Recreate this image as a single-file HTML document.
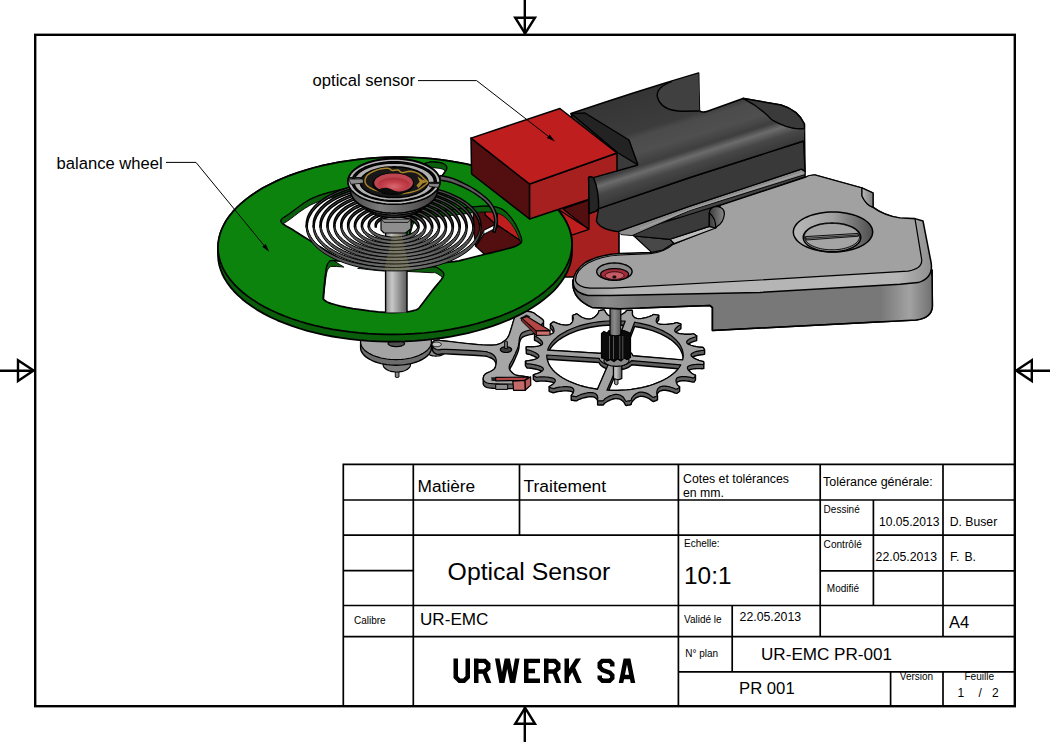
<!DOCTYPE html>
<html>
<head>
<meta charset="utf-8">
<title>Optical Sensor - UR-EMC PR-001</title>
<style>
html,body{margin:0;padding:0;background:#fff;}
body{width:1050px;height:742px;overflow:hidden;position:relative;font-family:"Liberation Sans",sans-serif;color:#000;}
svg{position:absolute;left:0;top:0;}
text{font-family:"Liberation Sans",sans-serif;fill:#000;}
.mono{font-family:"Liberation Mono",monospace;font-weight:bold;}
</style>
</head>
<body>
<svg width="1050" height="742" viewBox="0 0 1050 742">
<rect x="0" y="0" width="1050" height="742" fill="#ffffff"/>

<defs><clipPath id="urclip"><rect x="450" y="658.4" width="190" height="24.7"/></clipPath></defs>
<defs id="illdefs">
<linearGradient id="gRail" gradientUnits="userSpaceOnUse" x1="690" y1="150" x2="699" y2="178">
 <stop offset="0" stop-color="#404040"/><stop offset="0.22" stop-color="#6c6c6c"/><stop offset="0.5" stop-color="#474747"/><stop offset="1" stop-color="#343434"/></linearGradient>
<linearGradient id="gTopB" gradientUnits="userSpaceOnUse" x1="660" y1="85" x2="680" y2="150">
 <stop offset="0" stop-color="#353535"/><stop offset="0.55" stop-color="#3c3c3c"/><stop offset="0.64" stop-color="#4b4b4b"/><stop offset="0.86" stop-color="#4f4f4f"/><stop offset="1" stop-color="#424242"/></linearGradient>
<linearGradient id="gStaff" x1="0" y1="0" x2="1" y2="0">
 <stop offset="0" stop-color="#8a8a8a"/><stop offset="0.3" stop-color="#c8c8c8"/><stop offset="0.6" stop-color="#9a9a9a"/><stop offset="1" stop-color="#5a5a5a"/></linearGradient>
<linearGradient id="gArbor" x1="0" y1="0" x2="1" y2="0"><stop offset="0" stop-color="#5c5c5c"/><stop offset="0.4" stop-color="#8c8c8c"/><stop offset="1" stop-color="#585858"/></linearGradient>
<linearGradient id="gInca" x1="0" y1="0" x2="1" y2="0">
 <stop offset="0" stop-color="#444"/><stop offset="0.35" stop-color="#7c7c7c"/><stop offset="0.7" stop-color="#5e5e5e"/><stop offset="1" stop-color="#363636"/></linearGradient>
<linearGradient id="gSide" gradientUnits="userSpaceOnUse" x1="880" y1="0" x2="934" y2="0">
 <stop offset="0" stop-color="#777"/><stop offset="0.55" stop-color="#a2a2a2"/><stop offset="1" stop-color="#6c6c6c"/></linearGradient>
<linearGradient id="gSideL" gradientUnits="userSpaceOnUse" x1="572" y1="0" x2="640" y2="0">
 <stop offset="0" stop-color="#5e5e5e"/><stop offset="0.5" stop-color="#8c8c8c"/><stop offset="1" stop-color="#777"/></linearGradient>
<linearGradient id="gCham" gradientUnits="userSpaceOnUse" x1="572" y1="0" x2="934" y2="0">
 <stop offset="0" stop-color="#8a8a8a"/><stop offset="0.12" stop-color="#b4b4b4"/><stop offset="0.9" stop-color="#b6b6b6"/><stop offset="1" stop-color="#8c8c8c"/></linearGradient>
<linearGradient id="gSpring" x1="0" y1="0" x2="1" y2="0">
 <stop offset="0" stop-color="#505050"/><stop offset="0.35" stop-color="#646464"/><stop offset="0.55" stop-color="#767676"/><stop offset="1" stop-color="#4c4c4c"/></linearGradient>
<radialGradient id="gJewel" cx="0.5" cy="0.65" r="0.6">
 <stop offset="0" stop-color="#d86a72"/><stop offset="0.55" stop-color="#c4424c"/><stop offset="1" stop-color="#b02f3a"/></radialGradient>
<linearGradient id="gSink" x1="0" y1="0" x2="1" y2="0">
 <stop offset="0" stop-color="#b8b8b8"/><stop offset="0.5" stop-color="#a0a0a0"/><stop offset="1" stop-color="#4e4e4e"/></linearGradient>
<linearGradient id="gNotchL" x1="0" y1="0" x2="1" y2="0"><stop offset="0" stop-color="#b8b8b8"/><stop offset="1" stop-color="#7c7c7c"/></linearGradient>
<linearGradient id="gNotch" x1="0" y1="0" x2="1" y2="0">
 <stop offset="0" stop-color="#3c3c3c"/><stop offset="1" stop-color="#8a8a8a"/></linearGradient>
<clipPath id="clipWR"><path d="M410 240L411.6 244.9 414.6 249.2 418.3 252.9 422 256 425.7 258.4 429.7 260 433.8 261.2 438 262 442.2 262.4 446.6 262.3 450.9 261.9 455 261.4 458.9 260.8 462.6 259.9 466.2 259 470 258 474 257 478.1 256 482.1 255 486 254 489.7 253.1 493.2 252.3 496.6 251.4 500 250.6 503.6 249.7 507.2 248.8 510.6 247.9 513.5 247 515.7 246.1 517.5 245.3 518.9 244.4 520 243.6 520.8 242.9 520.8 242.8 520.8 242.7 520.1 240.7 519.2 238.4 518.1 235.8 516.7 232.9 515.2 229.9 513.5 227.1 511.6 224.4 509.4 221.7 507.2 219.2 505 217.2 502.9 215.7 500.9 214.5 498.8 213.7 496.5 213 494 212.5 491.4 212.2 488.7 212.1 486.1 212 483.6 212 481.2 212.1 478.6 212.3 475.8 212.5 472.8 212.8 469.6 213.2 466.1 213.7 462 214.2 457.1 214.8 451.6 215.4 445.8 216 440 216.7 433.7 216.9 427 216.7 420.8 217.3 416 219.7 412.8 224.8 410.8 231.9 409.9 238.3Z"/></clipPath></defs>
<!-- ====== ILLUSTRATION ====== -->
<g id="illustration">
<g id="escapewheel" stroke-linejoin="round"><path d="M534.5 340L534.7 340.3 535.2 340.5 536 340.8 536.7 341.1 537.4 341.6 538.2 342.1 538.9 342.6 539.7 343.3 540.5 344 541.1 344.7 541.4 345 541 345.3 540.1 345.7 539 346 537.7 346.3 536.4 346.5 534.9 346.7 533.2 346.8 531.6 346.8 529.8 346.8 528 346.7 526.7 346.8 526.2 347 526.2 351.2 526.3 351.6 526.3 351.7 526.3 352.9 526.3 353.3 526.4 353.5 526.4 353.7 526.8 353.9 527.4 354 528.3 354.2 529.3 354.4 530.2 354.7 531.2 355 532.2 355.5 533.4 355.9 534.5 356.5 535.6 357 536.6 357.6 537.4 358.2 536.9 358.5 535.9 359 534.7 359.4 533.4 359.8 531.9 360.1 530.3 360.4 528.6 360.7 526.9 360.9 525.7 361.1 525.4 361.4 525.4 365.6 525.6 366 525.9 366.3 526.1 366.7 526.4 367.2 526.7 367.6 526.9 367.8 527.1 368 527.5 368.1 528.2 368.1 529.1 368.1 530.2 368.2 531.2 368.3 532.4 368.5 533.7 368.7 535 369 536.4 369.3 537.8 369.7 539.1 370.1 540.3 370.6 541.3 371 541.8 371.3 541 371.8 539.9 372.4 538.7 373 537.4 373.5 535.9 374 534.4 374.5 533.4 374.9 533.3 375.3 533.3 379.5 533.7 379.7 534.2 380 534.7 380.4 535.2 380.8 535.7 381.1 536.1 381.3 536.3 381.4 536.8 381.5 537.5 381.4 538.4 381.2 539.4 381.1 540.5 381.1 541.7 381.1 543 381.1 544.5 381.1 546.1 381.2 547.6 381.4 549 381.6 550.5 381.8 551.7 382.1 552.8 382.4 553.7 382.8 554.1 383 553.8 383.4 552.9 384.2 552 384.9 550.9 385.6 549.8 386.3 549.1 386.8 549.1 391 549.2 391.4 549.8 391.6 550.4 391.8 551.1 392.1 551.9 392.3 552.5 392.5 552.9 392.7 553.3 392.8 553.7 392.7 554.4 392.5 555.1 392.3 556 392 557 391.8 558.2 391.6 559.5 391.4 560.9 391.2 562.4 391.1 563.9 390.9 565.4 390.9 566.9 390.9 568.3 391 569.5 391.1 570.6 391.3 571.6 391.6 572.3 392 572.9 392.5 573.2 392.8 572.9 393.4 572.2 394.2 571.5 395.1 571.2 395.7 571.2 399.9 571.5 400.2 572.2 400.3 573 400.4 573.8 400.5 574.7 400.7 575.4 400.8 575.9 400.9 576.3 400.9 576.7 400.8 577.2 400.5 577.7 400.1 578.4 399.7 579.3 399.4 580.2 399 581.3 398.6 582.6 398.2 583.9 397.8 585.3 397.5 586.7 397.2 588.1 396.9 589.5 396.8 590.7 396.7 591.9 396.8 593 396.9 593.9 397.2 594.8 397.5 595.6 398 596.3 398.6 596.8 399.2 597.3 399.9 597.5 400.7 597.6 400.9 597.6 404.2 597.7 404.8 598.1 405.1 598.8 405.1 599.6 405 600.5 405 601.4 405 602.2 405 602.7 405 603 405 603.4 404.8 603.7 404.5 604 404 604.4 403.5 605 403 605.7 402.5 606.5 402 607.4 401.4 608.5 400.8 609.6 400.3 610.7 399.8 612 399.4 613.1 399 614.3 398.8 615.4 398.6 616.5 398.6 617.6 398.7 618.7 398.9 619.7 399.2 620.7 399.6 621.6 400.1 622.4 400.7 623.2 401.4 623.8 402.2 624.4 403 624.9 403.9 625.3 404.8 625.8 405.4 626.4 405.5 627.1 405.4 627.8 405.2 628.6 405.1 629.5 405 630.2 404.8 630.7 404.7 631 404.6 631.2 404.4 631.3 404.1 631.3 403.6 631.4 403.1 631.7 402.5 632 401.9 632.5 401.3 633 400.6 633.7 399.9 634.4 399.2 635.2 398.5 636.1 397.9 637 397.4 637.9 397 638.9 396.6 639.9 396.4 641 396.3 642.2 396.4 643.3 396.5 644.5 396.8 645.7 397.1 646.9 397.6 648 398.1 649.1 398.7 650.1 399.4 651.1 400.1 652.1 400.9 652.9 401.4 653.5 401.5 654.1 401.3 654.7 401 655.4 400.8 656.2 400.5 656.8 400.2 657.1 400.1 657.4 399.9 657.5 399.7 657.5 395.5 657.3 395.1 657.1 394.8 657.3 394.2 657.7 393.4 658.1 392.7 658.7 392.1 659.3 391.5 660 391.1 660.9 390.7 661.9 390.5 663 390.3 664.2 390.3 665.5 390.3 666.8 390.5 668.2 390.7 669.6 391 671 391.5 672.4 391.9 673.8 392.5 675.2 393.1 676.3 393.4 676.9 393.4 677.3 393.1 677.7 392.7 678.2 392.4 678.8 392 679.2 391.7 679.5 391.4 679.6 391.3 679.6 387.1 679.6 386.8 679.2 386.5 678.7 386.1 678.1 385.7 677.7 385.2 677.3 384.6 676.9 383.9 676.6 383.2 676.5 382.9 676.8 382.4 677.4 382 678.2 381.6 679.2 381.3 680.3 381 681.5 380.9 682.9 380.8 684.3 380.8 685.8 380.9 687.4 381.1 689.1 381.3 690.7 381.6 692.4 382 693.6 382.1 694.2 382 694.4 381.6 694.6 381.2 694.9 380.8 695.2 380.4 695.4 380 695.5 379.7 695.5 379.6 695.5 375.4 695.3 375.1 694.8 374.9 694 374.6 693.3 374.3 692.6 373.8 691.8 373.3 691.1 372.8 690.3 372.1 689.5 371.4 688.9 370.7 688.6 370.4 689 370.1 689.9 369.7 691 369.4 692.3 369.1 693.6 368.9 695.1 368.7 696.8 368.6 698.4 368.6 700.2 368.6 702 368.7 703.3 368.6 703.8 368.4 703.8 364.2 703.7 363.8 703.7 363.7 703.7 362.5 703.7 362.1 703.6 361.9 703.6 361.7 703.2 361.5 702.6 361.4 701.7 361.2 700.7 361 699.8 360.7 698.8 360.4 697.8 359.9 696.6 359.5 695.5 358.9 694.4 358.4 693.4 357.8 692.6 357.2 693.1 356.9 694.1 356.4 695.3 356 696.6 355.6 698.1 355.3 699.7 355 701.4 354.7 703.1 354.5 704.3 354.3 704.6 354 704.6 349.8 704.4 349.4 704.1 349.1 703.9 348.7 703.6 348.2 703.3 347.8 703.1 347.6 702.9 347.4 702.5 347.3 701.8 347.3 700.9 347.3 699.8 347.2 698.8 347.1 697.6 346.9 696.3 346.7 695 346.4 693.6 346.1 692.2 345.7 690.9 345.3 689.7 344.8 688.7 344.4 688.2 344.1 689 343.6 690.1 343 691.3 342.4 692.6 341.9 694.1 341.4 695.6 340.9 696.6 340.5 696.7 340.1 696.7 335.9 696.3 335.7 695.8 335.4 695.3 335 694.8 334.6 694.3 334.3 693.9 334.1 693.7 334 693.2 333.9 692.5 334 691.6 334.2 690.6 334.3 689.5 334.3 688.3 334.3 687 334.3 685.5 334.3 683.9 334.2 682.4 334 681 333.8 679.5 333.6 678.3 333.3 677.2 333 676.3 332.6 675.9 332.4 676.2 332 677.1 331.2 678 330.5 679.1 329.8 680.2 329.1 680.9 328.6 680.9 324.4 680.8 324 680.2 323.8 679.6 323.6 678.9 323.3 678.1 323.1 677.5 322.9 677.1 322.7 676.7 322.6 676.3 322.7 675.6 322.9 674.9 323.1 674 323.4 673 323.6 671.8 323.8 670.5 324 669.1 324.2 667.6 324.3 666.1 324.5 664.6 324.5 663.1 324.5 661.7 324.4 660.5 324.3 659.4 324.1 658.4 323.8 657.7 323.4 657.1 322.9 656.8 322.6 657.1 322 657.8 321.2 658.5 320.3 658.8 319.7 658.8 315.5 658.5 315.2 657.8 315.1 657 315 656.2 314.9 655.3 314.7 654.6 314.6 654.1 314.5 653.7 314.5 653.3 314.6 652.8 314.9 652.3 315.3 651.6 315.7 650.7 316 649.8 316.4 648.7 316.8 647.4 317.2 646.1 317.6 644.7 317.9 643.3 318.2 641.9 318.5 640.5 318.6 639.3 318.7 638.1 318.6 637 318.5 636.1 318.2 635.2 317.9 634.4 317.4 633.7 316.8 633.2 316.2 632.7 315.5 632.5 314.7 632.4 314.5 632.4 311.2 632.3 310.6 631.9 310.3 631.2 310.3 630.4 310.4 629.5 310.4 628.6 310.4 627.8 310.4 627.3 310.4 627 310.4 626.6 310.6 626.3 310.9 626 311.4 625.6 311.9 625 312.4 624.3 312.9 623.5 313.4 622.6 314 621.5 314.6 620.4 315.1 619.3 315.6 618 316 616.9 316.4 615.7 316.6 614.6 316.8 613.5 316.8 612.4 316.7 611.3 316.5 610.3 316.2 609.3 315.8 608.4 315.3 607.6 314.7 606.8 314 606.2 313.2 605.6 312.4 605.1 311.5 604.7 310.6 604.2 310 603.6 309.9 602.9 310 602.2 310.2 601.4 310.3 600.5 310.4 599.8 310.6 599.3 310.7 599 310.8 598.8 311 598.7 311.3 598.7 311.8 598.6 312.3 598.3 312.9 598 313.5 597.5 314.1 597 314.8 596.3 315.5 595.6 316.2 594.8 316.9 593.9 317.5 593 318 592.1 318.4 591.1 318.8 590.1 319 589 319.1 587.8 319 586.7 318.9 585.5 318.6 584.3 318.3 583.1 317.8 582 317.3 580.9 316.7 579.9 316 578.9 315.3 577.9 314.5 577.1 314 576.5 313.9 575.9 314.1 575.3 314.4 574.6 314.6 573.8 314.9 573.2 315.2 572.9 315.3 572.6 315.5 572.5 315.7 572.5 319.9 572.7 320.3 572.9 320.6 572.7 321.2 572.3 322 571.9 322.7 571.3 323.3 570.7 323.9 570 324.3 569.1 324.7 568.1 324.9 567 325.1 565.8 325.1 564.5 325.1 563.2 324.9 561.8 324.7 560.4 324.4 559 323.9 557.6 323.5 556.2 322.9 554.8 322.3 553.7 322 553.1 322 552.7 322.3 552.3 322.7 551.8 323 551.2 323.4 550.8 323.7 550.5 324 550.4 324.1 550.4 328.3 550.4 328.6 550.8 328.9 551.3 329.3 551.9 329.7 552.3 330.2 552.7 330.8 553.1 331.5 553.4 332.2 553.5 332.5 553.2 333 552.6 333.4 551.8 333.8 550.8 334.1 549.7 334.4 548.5 334.5 547.1 334.6 545.7 334.6 544.2 334.5 542.6 334.3 540.9 334.1 539.3 333.8 537.6 333.4 536.4 333.3 535.8 333.4 535.6 333.8 535.4 334.2 535.1 334.6 534.8 335 534.6 335.4 534.5 335.7 534.5 335.8ZM550.8 347.9L552.6 345.6 554.7 343.4 557.1 341.3 559.7 339.3 562.7 337.4 565.9 335.6 569.3 333.9 573 332.4 576.8 330.9 580.9 329.6 585.1 328.5 589.4 327.5 593.9 326.7 598.5 326 603.1 325.5 607.9 325.2 612.6 325 617.4 325 622.1 325.2 623.7 325.3 614.8 348.5 614.3 348.5 613.5 348.6 612.7 348.6 611.9 348.7 611.1 348.8 610.3 349 609.5 349.1 608.7 349.3 608 349.5 607.3 349.7 606.6 349.9 605.9 350.2 605.2 350.4 604.6 350.7 604 351 603.4 351.3 602.9 351.6 602.3 352 601.9 352.3 601.4 352.7 601 353 600.6 353.4 549.3 350.2 549.3 350.2ZM549.3 365.2L548.2 362.8 547.4 360.4 547.1 359.2 599.1 362.5 599.2 362.6 599.3 363 599.5 363.4 599.7 363.8 600 364.3 600.3 364.6 600.6 365 601 365.4 601.4 365.8 601.9 366.1 602.3 366.5 602.9 366.8 603.4 367.2 604 367.5 604.6 367.8 605.2 368 605.9 368.3 606.5 368.5 597.5 389.3 593.9 388.7 589.4 387.9 585.1 386.9 580.9 385.8 576.8 384.5 573 383 569.3 381.5 565.9 379.8 562.7 378 559.7 376.1 557.1 374.1 554.7 372 552.6 369.8 550.8 367.5ZM631 353L630.6 352.7 630.1 352.3 629.7 352 629.1 351.6 628.6 351.3 628 351 627.4 350.7 626.8 350.4 626.1 350.2 625.6 350 634.6 326.4 636.1 326.7 640.6 327.5 644.9 328.5 649.1 329.6 653.2 330.9 657 332.4 660.7 333.9 664.1 335.6 667.3 337.4 670.3 339.3 672.9 341.3 675.3 343.4 677.4 345.6 679.2 347.9 680.7 350.2 681.8 352.6 682.6 355 683.1 357.4 683.2 357.7 683.1 358 682.7 360 632.8 355.8 632.7 355.4 632.5 355 632.3 354.6 632 354.2 631.7 353.8 631.4 353.4ZM649.1 385.8L644.9 386.9 640.6 387.9 636.1 388.7 631.5 389.4 626.9 389.9 622.1 390.2 617.4 390.4 612.6 390.4 608.7 390.3 617.6 370 617.7 370 618.5 369.9 619.3 369.8 620.1 369.7 620.9 369.6 621.7 369.5 622.5 369.3 623.3 369.2 624 369 624.7 368.8 625.4 368.5 626.1 368.3 626.8 368 627.4 367.8 628 367.5 628.6 367.2 629.1 366.8 629.7 366.5 630.1 366.1 630.6 365.8 631 365.4 631.4 365 631.5 364.8 678.1 368.8 677.4 369.8 675.3 372 672.9 374.1 670.3 376.1 667.3 378 664.1 379.8 660.7 381.5 657 383 653.2 384.5Z" fill="#5f5f5f" stroke="#000" stroke-width="1.4"/><path d="M703.9 348.7L703.6 348.2 703.3 347.8 703.1 347.6 702.9 347.4 702.5 347.3 701.8 347.3 700.9 347.3 699.8 347.2 698.8 347.1 697.6 346.9 696.3 346.7 695 346.4 693.6 346.1 692.2 345.7 690.9 345.3 689.7 344.8 688.7 344.4 687.9 343.9 687.2 343.4 686.8 342.9 686.7 342.3 686.7 341.7 687 341.1 687.5 340.5 688.2 339.9 689 339.4 690.1 338.8 691.3 338.2 692.6 337.7 694.1 337.2 695.6 336.7 696.6 336.3 696.7 335.9 696.3 335.7 695.8 335.4 695.3 335 694.8 334.6 694.3 334.3 693.9 334.1 693.7 334 693.2 333.9 692.5 334 691.6 334.2 690.6 334.3 689.5 334.3 688.3 334.3 687 334.3 685.5 334.3 683.9 334.2 682.4 334 681 333.8 679.5 333.6 678.3 333.3 677.2 333 676.3 332.6 675.6 332.2 675.1 331.7 674.8 331.1 674.7 330.5 674.8 329.9 675.1 329.2 675.6 328.5 676.2 327.8 677.1 327 678 326.3 679.1 325.6 680.2 324.9 680.9 324.4 680.8 324 680.2 323.8 679.6 323.6 678.9 323.3 678.1 323.1 677.5 322.9 677.1 322.7 676.7 322.6 676.3 322.7 675.6 322.9 674.9 323.1 674 323.4 673 323.6 671.8 323.8 670.5 324 669.1 324.2 667.6 324.3 666.1 324.5 664.6 324.5 663.1 324.5 661.7 324.4 660.5 324.3 659.4 324.1 658.4 323.8 657.7 323.4 657.1 322.9 656.6 322.3 656.3 321.7 656.2 321 656.2 320.3 656.4 319.5 656.7 318.7 657.1 317.8 657.8 317 658.5 316.1 658.8 315.5 658.5 315.2 657.8 315.1 657 315 656.2 314.9 655.3 314.7 654.6 314.6 654.1 314.5 653.7 314.5 653.3 314.6 652.8 314.9 652.3 315.3 651.6 315.7 650.7 316 649.8 316.4 648.7 316.8 647.4 317.2 646.1 317.6 644.7 317.9 643.3 318.2 641.9 318.5 640.5 318.6 639.3 318.7 638.1 318.6 637 318.5 636.1 318.2 635.2 317.9 634.4 317.4 633.7 316.8 633.2 316.2 632.7 315.5 632.5 314.7 632.3 313.9 632.2 313 632.3 312.1 632.4 311.2 632.3 310.6 631.9 310.3 631.2 310.3 630.4 310.4 629.5 310.4 628.6 310.4 627.8 310.4 627.3 310.4 627 310.4 626.6 310.6 626.3 310.9 626 311.4 625.6 311.9 625 312.4 624.3 312.9 623.5 313.4 622.6 314 621.5 314.6 620.4 315.1 619.3 315.6 618 316 616.9 316.4 615.7 316.6 614.6 316.8 613.5 316.8 612.4 316.7 611.3 316.5 610.3 316.2 609.3 315.8 608.4 315.3 607.6 314.7 606.8 314 606.2 313.2 605.6 312.4 605.1 311.5 604.7 310.6 604.2 310 603.6 309.9 602.9 310 602.2 310.2 601.4 310.3 600.5 310.4 599.8 310.6 599.3 310.7 599 310.8 598.8 311 598.7 311.3 598.7 311.8 598.6 312.3 598.3 312.9 598 313.5 597.5 314.1 597 314.8 596.3 315.5 595.6 316.2 594.8 316.9 593.9 317.5 593 318 592.1 318.4 591.1 318.8 590.1 319 589 319.1 587.8 319 586.7 318.9 585.5 318.6 584.3 318.3 583.1 317.8 582 317.3 580.9 316.7 579.9 316 578.9 315.3 577.9 314.5 577.1 314 576.5 313.9 575.9 314.1 575.3 314.4 574.6 314.6 573.8 314.9 573.2 315.2 572.9 315.3 572.6 315.5 572.5 315.7 572.7 316.1 573 316.5 573.2 317 573.3 317.6 573.3 318.2 573.2 318.9 573.1 319.6 573 320.4 572.7 321.2 572.3 322 571.9 322.7 571.3 323.3 570.7 323.9 570 324.3 569.1 324.7 568.1 324.9 567 325.1 565.8 325.1 564.5 325.1 563.2 324.9 561.8 324.7 560.4 324.4 559 323.9 557.6 323.5 556.2 322.9 554.8 322.3 553.7 322 553.1 322 552.7 322.3 552.3 322.7 551.8 323 551.2 323.4 550.8 323.7 550.5 324 550.4 324.1 550.4 324.4 550.8 324.7 551.3 325.1 551.9 325.5 552.3 326 552.7 326.6 553.1 327.3 553.4 328 553.7 328.8 553.9 329.6 554 330.3 554 331.1 553.9 331.8 553.6 332.4 553.2 333 552.6 333.4 551.8 333.8 550.8 334.1 549.7 334.4 548.5 334.5 547.1 334.6 545.7 334.6 544.2 334.5 542.6 334.3 540.9 334.1 539.3 333.8 537.6 333.4 536.4 333.3 535.8 333.4 535.6 333.8 535.4 334.2 535.1 334.6 534.8 335 534.6 335.4 534.5 335.7 534.5 335.8 534.7 336.1 535.2 336.3 536 336.6 536.7 336.9 537.4 337.4 538.2 337.9 538.9 338.4 539.7 339.1 540.5 339.8 541.1 340.5 541.7 341.2 542.2 341.9 542.5 342.6 542.6 343.2 542.5 343.8 542.3 344.4 541.7 344.9 541 345.3 540.1 345.7 539 346 537.7 346.3 536.4 346.5 534.9 346.7 533.2 346.8 531.6 346.8 529.8 346.8 528 346.7 526.7 346.8 526.2 347 526.3 347.4 526.3 347.8 526.3 348.2 526.3 348.7 526.3 349.1 526.4 349.3 526.4 349.5 526.8 349.7 527.4 349.8 528.3 350 529.3 350.2 530.2 350.5 531.2 350.8 532.2 351.3 533.4 351.7 534.5 352.3 535.6 352.8 536.6 353.4 537.4 354 538.1 354.7 538.6 355.2 538.9 355.8 539 356.4 538.8 356.9 538.4 357.5 537.7 358 536.9 358.5 535.9 359 534.7 359.4 533.4 359.8 531.9 360.1 530.3 360.4 528.6 360.7 526.9 360.9 525.7 361.1 525.4 361.4 525.6 361.8 525.9 362.1 526.1 362.5 526.4 363 526.7 363.4 526.9 363.6 527.1 363.8 527.5 363.9 528.2 363.9 529.1 363.9 530.2 364 531.2 364.1 532.4 364.3 533.7 364.5 535 364.8 536.4 365.1 537.8 365.5 539.1 365.9 540.3 366.4 541.3 366.8 542.1 367.3 542.8 367.8 543.2 368.3 543.3 368.9 543.3 369.5 543 370.1 542.5 370.7 541.8 371.3 541 371.8 539.9 372.4 538.7 373 537.4 373.5 535.9 374 534.4 374.5 533.4 374.9 533.3 375.3 533.7 375.5 534.2 375.8 534.7 376.2 535.2 376.6 535.7 376.9 536.1 377.1 536.3 377.2 536.8 377.3 537.5 377.2 538.4 377 539.4 376.9 540.5 376.9 541.7 376.9 543 376.9 544.5 376.9 546.1 377 547.6 377.2 549 377.4 550.5 377.6 551.7 377.9 552.8 378.2 553.7 378.6 554.4 379 554.9 379.5 555.2 380.1 555.3 380.7 555.2 381.3 554.9 382 554.4 382.7 553.8 383.4 552.9 384.2 552 384.9 550.9 385.6 549.8 386.3 549.1 386.8 549.2 387.2 549.8 387.4 550.4 387.6 551.1 387.9 551.9 388.1 552.5 388.3 552.9 388.5 553.3 388.6 553.7 388.5 554.4 388.3 555.1 388.1 556 387.8 557 387.6 558.2 387.4 559.5 387.2 560.9 387 562.4 386.9 563.9 386.7 565.4 386.7 566.9 386.7 568.3 386.8 569.5 386.9 570.6 387.1 571.6 387.4 572.3 387.8 572.9 388.3 573.4 388.9 573.7 389.5 573.8 390.2 573.8 390.9 573.6 391.7 573.3 392.5 572.9 393.4 572.2 394.2 571.5 395.1 571.2 395.7 571.5 396 572.2 396.1 573 396.2 573.8 396.3 574.7 396.5 575.4 396.6 575.9 396.7 576.3 396.7 576.7 396.6 577.2 396.3 577.7 395.9 578.4 395.5 579.3 395.2 580.2 394.8 581.3 394.4 582.6 394 583.9 393.6 585.3 393.3 586.7 393 588.1 392.7 589.5 392.6 590.7 392.5 591.9 392.6 593 392.7 593.9 393 594.8 393.3 595.6 393.8 596.3 394.4 596.8 395 597.3 395.7 597.5 396.5 597.7 397.3 597.8 398.2 597.7 399.1 597.6 400 597.7 400.6 598.1 400.9 598.8 400.9 599.6 400.8 600.5 400.8 601.4 400.8 602.2 400.8 602.7 400.8 603 400.8 603.4 400.6 603.7 400.3 604 399.8 604.4 399.3 605 398.8 605.7 398.3 606.5 397.8 607.4 397.2 608.5 396.6 609.6 396.1 610.7 395.6 612 395.2 613.1 394.8 614.3 394.6 615.4 394.4 616.5 394.4 617.6 394.5 618.7 394.7 619.7 395 620.7 395.4 621.6 395.9 622.4 396.5 623.2 397.2 623.8 398 624.4 398.8 624.9 399.7 625.3 400.6 625.8 401.2 626.4 401.3 627.1 401.2 627.8 401 628.6 400.9 629.5 400.8 630.2 400.6 630.7 400.5 631 400.4 631.2 400.2 631.3 399.9 631.3 399.4 631.4 398.9 631.7 398.3 632 397.7 632.5 397.1 633 396.4 633.7 395.7 634.4 395 635.2 394.3 636.1 393.7 637 393.2 637.9 392.8 638.9 392.4 639.9 392.2 641 392.1 642.2 392.2 643.3 392.3 644.5 392.6 645.7 392.9 646.9 393.4 648 393.9 649.1 394.5 650.1 395.2 651.1 395.9 652.1 396.7 652.9 397.2 653.5 397.3 654.1 397.1 654.7 396.8 655.4 396.6 656.2 396.3 656.8 396 657.1 395.9 657.4 395.7 657.5 395.5 657.3 395.1 657 394.7 656.8 394.2 656.7 393.6 656.7 393 656.8 392.3 656.9 391.6 657 390.8 657.3 390 657.7 389.2 658.1 388.5 658.7 387.9 659.3 387.3 660 386.9 660.9 386.5 661.9 386.3 663 386.1 664.2 386.1 665.5 386.1 666.8 386.3 668.2 386.5 669.6 386.8 671 387.3 672.4 387.7 673.8 388.3 675.2 388.9 676.3 389.2 676.9 389.2 677.3 388.9 677.7 388.5 678.2 388.2 678.8 387.8 679.2 387.5 679.5 387.2 679.6 387.1 679.6 386.8 679.2 386.5 678.7 386.1 678.1 385.7 677.7 385.2 677.3 384.6 676.9 383.9 676.6 383.2 676.3 382.4 676.1 381.6 676 380.9 676 380.1 676.1 379.4 676.4 378.8 676.8 378.2 677.4 377.8 678.2 377.4 679.2 377.1 680.3 376.8 681.5 376.7 682.9 376.6 684.3 376.6 685.8 376.7 687.4 376.9 689.1 377.1 690.7 377.4 692.4 377.8 693.6 377.9 694.2 377.8 694.4 377.4 694.6 377 694.9 376.6 695.2 376.2 695.4 375.8 695.5 375.5 695.5 375.4 695.3 375.1 694.8 374.9 694 374.6 693.3 374.3 692.6 373.8 691.8 373.3 691.1 372.8 690.3 372.1 689.5 371.4 688.9 370.7 688.3 370 687.8 369.3 687.5 368.6 687.4 368 687.5 367.4 687.7 366.8 688.3 366.3 689 365.9 689.9 365.5 691 365.2 692.3 364.9 693.6 364.7 695.1 364.5 696.8 364.4 698.4 364.4 700.2 364.4 702 364.5 703.3 364.4 703.8 364.2 703.7 363.8 703.7 363.4 703.7 363 703.7 362.5 703.7 362.1 703.6 361.9 703.6 361.7 703.2 361.5 702.6 361.4 701.7 361.2 700.7 361 699.8 360.7 698.8 360.4 697.8 359.9 696.6 359.5 695.5 358.9 694.4 358.4 693.4 357.8 692.6 357.2 691.9 356.5 691.4 356 691.1 355.4 691 354.8 691.2 354.3 691.6 353.7 692.3 353.2 693.1 352.7 694.1 352.2 695.3 351.8 696.6 351.4 698.1 351.1 699.7 350.8 701.4 350.5 703.1 350.3 704.3 350.1 704.6 349.8 704.4 349.4 704.1 349.1ZM636.1 322.5L640.6 323.3 644.9 324.3 649.1 325.4 653.2 326.7 657 328.2 660.7 329.7 664.1 331.4 667.3 333.2 670.3 335.1 672.9 337.1 675.3 339.2 677.4 341.4 679.2 343.7 680.7 346 681.8 348.4 682.6 350.8 683.1 353.2 683.3 355.6 683.1 358 682.7 360 632.8 355.8 632.7 355.4 632.5 355 632.3 354.6 632 354.2 631.7 353.8 631.4 353.4 631 353 630.6 352.7 630.1 352.3 629.7 352 629.1 351.6 628.6 351.3 628 351 627.4 350.7 626.8 350.4 626.1 350.2 625.4 349.9 624.7 349.7 624.2 349.5 634.6 322.2ZM680.7 365.2L679.2 367.5 677.4 369.8 675.3 372 672.9 374.1 670.3 376.1 667.3 378 664.1 379.8 660.7 381.5 657 383 653.2 384.5 649.1 385.8 644.9 386.9 640.6 387.9 636.1 388.7 631.5 389.4 626.9 389.9 622.1 390.2 617.4 390.4 612.6 390.4 607.9 390.2 606.9 390.2 617.6 365.8 617.7 365.8 618.5 365.7 619.3 365.6 620.1 365.5 620.9 365.4 621.7 365.3 622.5 365.1 623.3 365 624 364.8 624.7 364.6 625.4 364.3 626.1 364.1 626.8 363.8 627.4 363.6 628 363.3 628.6 363 629.1 362.6 629.7 362.3 630.1 361.9 630.6 361.6 631 361.2 631.4 360.8 631.5 360.6 680.8 364.8ZM593.9 388.7L589.4 387.9 585.1 386.9 580.9 385.8 576.8 384.5 573 383 569.3 381.5 565.9 379.8 562.7 378 559.7 376.1 557.1 374.1 554.7 372 552.6 369.8 550.8 367.5 549.3 365.2 548.2 362.8 547.4 360.4 546.9 358 546.7 355.6 546.7 355 599.1 358.3 599.2 358.4 599.3 358.8 599.5 359.2 599.7 359.6 600 360.1 600.3 360.4 600.6 360.8 601 361.2 601.4 361.6 601.9 361.9 602.3 362.3 602.9 362.6 603.4 363 604 363.3 604.6 363.6 605.2 363.8 605.9 364.1 606.6 364.3 607.3 364.6 608 364.8 608.1 364.8 597.5 389.3ZM547.6 350.1L548.2 348.4 549.3 346 550.8 343.7 552.6 341.4 554.7 339.2 557.1 337.1 559.7 335.1 562.7 333.2 565.9 331.4 569.3 329.7 573 328.2 576.8 326.7 580.9 325.4 585.1 324.3 589.4 323.3 593.9 322.5 598.5 321.8 603.1 321.3 607.9 321 612.6 320.8 617.4 320.8 622.1 321 625.2 321.2 614.8 348.5 614.3 348.5 613.5 348.6 612.7 348.6 611.9 348.7 611.1 348.8 610.3 349 609.5 349.1 608.7 349.3 608 349.5 607.3 349.7 606.6 349.9 605.9 350.2 605.2 350.4 604.6 350.7 604 351 603.4 351.3 602.9 351.6 602.3 352 601.9 352.3 601.4 352.7 601 353 600.6 353.4Z" fill="#a2a2a2" stroke="#000" stroke-width="1.2"/></g>
<g id="pinion"><path d="M613.4 360V378.6Q617.6 381 621.8 378.6V360Z" fill="url(#gStaff)" stroke="#000" stroke-width="1.2"/><path d="M614.6 379V384Q616.3 385.6 618 384V379.6Z" fill="#9a9a9a" stroke="#000" stroke-width="0.9"/><path d="M629 360.5L629 361 628.8 361.5 628.6 362 628.2 362.5 627.8 363 627.3 363.4 626.7 363.8 626.1 364.2 625.3 364.6 624.5 364.9 623.7 365.3 622.8 365.5 621.8 365.8 620.8 366 619.7 366.1 618.7 366.2 617.6 366.3 616.5 366.3 615.4 366.3 614.3 366.2 613.3 366.1 612.2 366 611.2 365.8 610.2 365.5 609.3 365.3 608.5 364.9 607.7 364.6 606.9 364.2 606.3 363.8 605.7 363.4 605.2 363 604.8 362.5 604.4 362 604.2 361.5 604 361 604 360.5 604 360 604.2 359.5 604.4 359 604.8 358.5 605.2 358 605.7 357.6 606.3 357.2 606.9 356.8 607.7 356.4 608.5 356.1 609.3 355.7 610.2 355.5 611.2 355.2 612.2 355 613.3 354.9 614.3 354.8 615.4 354.7 616.5 354.7 617.6 354.7 618.7 354.8 619.7 354.9 620.8 355 621.8 355.2 622.8 355.5 623.7 355.7 624.5 356.1 625.3 356.4 626.1 356.8 626.7 357.2 627.3 357.6 627.8 358 628.2 358.5 628.6 359 628.8 359.5 629 360 629 360.5Z" fill="#8a8a8a" stroke="#000" stroke-width="1.2"/><path d="M601.5 333.5L604 331.5L607 333L609 330.5L624 330.5L627 331.8L630.5 333.5V357.5L627 359.5L624 358L621 361L617.5 359L614 361.5L610.5 359.5L607 361L604.5 358.5L601.5 358Z" fill="#0a0a0a" stroke="#000" stroke-width="1.2"/><path d="M609.5 336V359" stroke="#777" stroke-width="0.7" fill="none"/><path d="M613.5 336V359" stroke="#777" stroke-width="0.7" fill="none"/><path d="M619.8 336V359" stroke="#777" stroke-width="0.7" fill="none"/><path d="M622.8 336V359" stroke="#777" stroke-width="0.7" fill="none"/><path d="M610 306V334.8Q615.4 336.8 620.8 334.8V306Z" fill="url(#gArbor)" stroke="#000" stroke-width="1.2"/></g>
<g id="palletfork" stroke-linejoin="round"><path d="M444.5 352.5L444.5 352.8 444.4 353.1 444.2 353.4 444 353.7 443.7 354 443.4 354.3 443 354.6 442.5 354.8 442 355 441.5 355.3 440.9 355.4 440.2 355.6 439.6 355.8 438.9 355.9 438.2 356 437.5 356 436.7 356.1 436 356.1 435.3 356.1 434.5 356 433.8 356 433.1 355.9 432.4 355.8 431.8 355.6 431.1 355.4 430.5 355.3 430 355 429.5 354.8 429 354.6 428.6 354.3 428.3 354 428 353.7 427.8 353.4 427.6 353.1 427.5 352.8 427.5 352.5 427.5 352.2 427.6 351.9 427.8 351.6 428 351.3 428.3 351 428.6 350.7 429 350.4 429.5 350.2 430 350 430.5 349.7 431.1 349.6 431.8 349.4 432.4 349.2 433.1 349.1 433.8 349 434.5 349 435.3 348.9 436 348.9 436.7 348.9 437.5 349 438.2 349 438.9 349.1 439.6 349.2 440.2 349.4 440.9 349.6 441.5 349.7 442 350 442.5 350.2 443 350.4 443.4 350.7 443.7 351 444 351.3 444.2 351.6 444.4 351.9 444.5 352.2 444.5 352.5Z" fill="#8c8c8c" stroke="#000" stroke-width="1.2"/><path d="M465.8 343.5L457.2 342.5 449 341.5 443 340.8 440 340.4 438.9 340.2 438.6 340.2 438 340.2 436.9 340.3 435.8 340.4 434.8 340.6 434 341 433.4 341.5 432.9 342.1 432.6 342.7 432.5 343.5 432.5 344.4 432.5 349 432.6 350.1 432.9 351.2 433.5 352.1 434.3 352.9 435.3 353.5 436.5 354.1 438 354.4 439.1 354.4 440.1 354.2 442 353.9 446 353.9 453.5 354.2 463.6 354.8 473.6 355.3 481 355.8 484.8 356.1 486.3 356.2 487 356.4 488 356.8 489.5 357.3 491 358 492.4 358.7 493.5 359.6 494.5 360.6 495.3 361.8 495.9 363.1 496.1 364.1 495.7 365.9 495.2 367.6 494.5 368.8 493.6 369.6 492.6 370.3 491.4 371 490 371.8 488.3 372.5 486.7 373.2 485.4 374 484.6 374.8 484 375.7 483.6 376.6 483.4 377.4 483.3 378.2 483.2 379.1 483.2 383.7 483.4 384.5 483.8 385.2 484.4 385.9 485.1 386.6 486.1 387.1 487.4 387.6 488.9 387.9 490.6 388.1 492.6 388.3 495 388.4 497.7 388.5 500.8 388.6 504.2 388.6 507.7 388.6 511.8 388.6 516.4 388.6 520.7 388.5 524 388.2 526 387.7 527 387.1 527.6 386.4 528 385.6 528.6 384.7 529 383.7 529 379.1 528.9 378 528 377.2 525.8 376.6 522.5 376.2 519.2 375.8 516.5 375.3 514.8 374.7 513.7 374 512.8 373.3 512 372.5 511.2 371.7 510.4 370.8 509.8 369.9 509.6 369.5 510.1 368.4 510.8 367.1 511.7 365.7 512.5 364.1 513.4 362.4 514.3 360.4 515.2 358.5 516 356.6 516.8 354.8 517.5 353.1 518.1 351.3 518.6 349.6 518.9 347.8 519.1 346 519.2 344.2 519.5 342.6 519.9 341.2 520.4 339.8 521.1 338.6 522 337.6 523.2 336.8 524.7 336.2 526.3 335.6 528 335.1 529.9 334.6 532 334.3 534.1 333.8 536 333.1 537.9 332 539.7 330.7 541.3 329.3 542.5 328.1 543.2 327.1 543.5 326.3 543.5 321.7 543.5 320.9 543 320 541.9 318.9 540.3 317.7 538.6 316.6 537 315.5 535.8 314.6 534.8 313.7 533.6 312.9 532 312.3 529.7 311.7 527 311.3 524.2 310.9 522 310.8 520.5 310.9 519.4 311.2 518.5 311.7 517.6 312.4 516.7 313.4 516 314.5 515.3 315.9 514.6 317.6 513.9 319.6 513.2 321.9 512.5 324.3 511.8 326.7 511 329.2 510.2 331.8 509.4 334.3 508.4 336.4 507.3 338.1 506.2 339.4 504.9 340.6 503.6 341.6 502.2 342.5 500.7 343.3 499.2 343.9 497.5 344.4 495.9 344.8 494.4 345 492.6 345.2 490 345.2 486.7 345.1 482.9 345 478.4 344.7 473 344.2Z" fill="#666" stroke="#000" stroke-width="1.4"/><path d="M432.5 343.5L432.5 344.4 432.6 345.5 432.9 346.6 433.5 347.5 434.3 348.3 435.3 348.9 436.5 349.5 438 349.8 439.1 349.8 440.1 349.6 442 349.3 446 349.3 453.5 349.6 463.6 350.2 473.6 350.7 481 351.2 484.8 351.5 486.3 351.6 487 351.8 488 352.2 489.5 352.7 491 353.4 492.4 354.1 493.5 355 494.5 356 495.3 357.2 495.9 358.5 496.2 360 496.3 361.8 496.1 363.9 495.7 365.9 495.2 367.6 494.5 368.8 493.6 369.6 492.6 370.3 491.4 371 490 371.8 488.3 372.5 486.7 373.2 485.4 374 484.6 374.8 484 375.7 483.6 376.6 483.4 377.4 483.3 378.2 483.2 379.1 483.4 379.9 483.8 380.6 484.4 381.3 485.1 381.9 486.1 382.5 487.4 383 488.9 383.3 490.6 383.5 492.6 383.7 495 383.8 497.7 383.9 500.8 384 504.2 384 507.7 384 511.8 384 516.4 384 520.7 383.9 524 383.6 526 383.1 527 382.5 527.6 381.8 528 381 528.6 380.1 529 379.1 528.9 378 528 377.2 525.8 376.6 522.5 376.2 519.2 375.8 516.5 375.3 514.8 374.7 513.7 374 512.8 373.3 512 372.5 511.2 371.7 510.4 370.8 509.8 369.9 509.4 369 509.2 368.1 509.2 367.1 509.3 366.1 509.6 365 510.1 363.8 510.8 362.5 511.7 361.1 512.5 359.5 513.4 357.8 514.3 355.8 515.2 353.9 516 352 516.8 350.2 517.5 348.5 518.1 346.7 518.6 345 518.9 343.2 519.1 341.4 519.2 339.6 519.5 338 519.9 336.6 520.4 335.2 521.1 334 522 333 523.2 332.2 524.7 331.6 526.3 331 528 330.5 529.9 330 532 329.7 534.1 329.2 536 328.5 537.9 327.4 539.7 326.1 541.3 324.7 542.5 323.5 543.2 322.5 543.5 321.7 543.5 320.9 543 320 541.9 318.9 540.3 317.7 538.6 316.6 537 315.5 535.8 314.6 534.8 313.7 533.6 312.9 532 312.3 529.7 311.7 527 311.3 524.2 310.9 522 310.8 520.5 310.9 519.4 311.2 518.5 311.7 517.6 312.4 516.7 313.4 516 314.5 515.3 315.9 514.6 317.6 513.9 319.6 513.2 321.9 512.5 324.3 511.8 326.7 511 329.2 510.2 331.8 509.4 334.3 508.4 336.4 507.3 338.1 506.2 339.4 504.9 340.6 503.6 341.6 502.2 342.5 500.7 343.3 499.2 343.9 497.5 344.4 495.9 344.8 494.4 345 492.6 345.2 490 345.2 486.7 345.1 482.9 345 478.4 344.7 473 344.2 465.8 343.5 457.2 342.5 449 341.5 443 340.8 440 340.4 438.9 340.2 438.6 340.2 438 340.2 436.9 340.3 435.8 340.4 434.8 340.6 434 341 433.4 341.5 432.9 342.1 432.6 342.7Z" fill="#a6a6a6" stroke="#000" stroke-width="1.2"/><path d="M441.3 344.4L441.3 344.6 441.2 344.8 441.1 345 441 345.2 440.9 345.4 440.7 345.5 440.5 345.7 440.2 345.9 440 346 439.7 346.2 439.3 346.3 439 346.4 438.6 346.5 438.3 346.6 437.9 346.6 437.5 346.7 437.1 346.7 436.7 346.7 436.3 346.7 435.9 346.7 435.5 346.6 435.1 346.6 434.8 346.5 434.4 346.4 434.1 346.3 433.7 346.2 433.4 346 433.2 345.9 432.9 345.7 432.7 345.5 432.5 345.4 432.4 345.2 432.3 345 432.2 344.8 432.1 344.6 432.1 344.4 432.1 344.2 432.2 344 432.3 343.8 432.4 343.6 432.5 343.4 432.7 343.2 432.9 343.1 433.2 342.9 433.4 342.8 433.7 342.6 434.1 342.5 434.4 342.4 434.8 342.3 435.1 342.2 435.5 342.2 435.9 342.1 436.3 342.1 436.7 342.1 437.1 342.1 437.5 342.1 437.9 342.2 438.3 342.2 438.6 342.3 439 342.4 439.3 342.5 439.7 342.6 440 342.8 440.2 342.9 440.5 343.1 440.7 343.2 440.9 343.4 441 343.6 441.1 343.8 441.2 344 441.3 344.2 441.3 344.4Z" fill="#c4c4c4" stroke="#000" stroke-width="0.9"/><path d="M511.6 349.6L511.6 349.9 511.5 350.1 511.4 350.4 511.3 350.6 511.1 350.8 510.8 351.1 510.6 351.3 510.3 351.5 510 351.7 509.6 351.8 509.2 352 508.8 352.1 508.4 352.2 507.9 352.3 507.4 352.4 507 352.5 506.5 352.5 506 352.5 505.5 352.5 505 352.5 504.6 352.4 504.1 352.3 503.6 352.2 503.2 352.1 502.8 352 502.4 351.8 502 351.7 501.7 351.5 501.4 351.3 501.2 351.1 500.9 350.8 500.7 350.6 500.6 350.4 500.5 350.1 500.4 349.9 500.4 349.6 500.4 349.3 500.5 349.1 500.6 348.8 500.7 348.6 500.9 348.4 501.2 348.2 501.4 347.9 501.7 347.7 502 347.5 502.4 347.4 502.8 347.2 503.2 347.1 503.6 347 504.1 346.9 504.6 346.8 505 346.7 505.5 346.7 506 346.7 506.5 346.7 507 346.7 507.4 346.8 507.9 346.9 508.4 347 508.8 347.1 509.2 347.2 509.6 347.4 510 347.5 510.3 347.7 510.6 347.9 510.8 348.2 511.1 348.4 511.3 348.6 511.4 348.8 511.5 349.1 511.6 349.3 511.6 349.6Z" fill="#3c3c3c" stroke="#000" stroke-width="1.2"/><path d="M504.6 348.6V341.6Q506 340.4 507.4 341.6V348.6Z" fill="#777" stroke="#000" stroke-width="0.9"/><path d="M519.6 318.2L526.4 314.6L530.6 316.4L523.4 320.4Z" fill="#1c1c1c" stroke="none" stroke-width="0"/><path d="M521.8 318.4L527 316.4L550 330.6L536 331Z" fill="#b24646" stroke="#000" stroke-width="1.2"/><path d="M536 331L550 330.6V335L536.4 335.4Z" fill="#cf7070" stroke="#000" stroke-width="1.2"/><path d="M521.3 317.7L536 331L536.4 335.4L521.5 321Z" fill="#7c2626" stroke="#000" stroke-width="0.8"/><path d="M495.7 384.3H507.7V389.4H495.7Z" fill="#8c8c8c" stroke="#000" stroke-width="1"/><path d="M491.2 377.2L496 377.2L496 381L491.6 381Z" fill="#1c1c1c" stroke="none" stroke-width="0"/><path d="M495.7 377.4L529.1 377L524.8 380.4L495.7 380.8Z" fill="#b24646" stroke="#000" stroke-width="1.2"/><path d="M524.8 380.4L530.6 376.8L530.8 385.1L525.2 390.3Z" fill="#b85a5a" stroke="#000" stroke-width="1.2"/><path d="M512.8 381.2L524.8 380.4L525.2 390.3H513.6Z" fill="#c46a6a" stroke="#000" stroke-width="1.2"/></g>
<g id="roller"><path d="M395.3 370V377Q397.2 378.2 399 377V370Z" fill="#888" stroke="#000" stroke-width="0.9"/><path d="M410.5 364.6L410.4 365.2 410.3 365.9 410 366.5 409.7 367.1 409.2 367.7 408.7 368.3 408 368.8 407.3 369.4 406.5 369.8 405.6 370.3 404.7 370.7 403.7 371 402.6 371.3 401.5 371.6 400.3 371.7 399.2 371.9 398 372 396.8 372 395.6 372 394.4 371.9 393.3 371.7 392.1 371.6 391 371.3 389.9 371 388.9 370.7 388 370.3 387.1 369.8 386.3 369.4 385.6 368.8 384.9 368.3 384.4 367.7 383.9 367.1 383.6 366.5 383.3 365.9 383.2 365.2 383.1 364.6 383.2 364 383.3 363.3 383.6 362.7 383.9 362.1 384.4 361.5 384.9 360.9 385.6 360.4 386.3 359.8 387.1 359.4 388 358.9 388.9 358.5 389.9 358.2 391 357.9 392.1 357.6 393.3 357.5 394.4 357.3 395.6 357.2 396.8 357.2 398 357.2 399.2 357.3 400.3 357.5 401.5 357.6 402.6 357.9 403.7 358.2 404.7 358.5 405.6 358.9 406.5 359.4 407.3 359.8 408 360.4 408.7 360.9 409.2 361.5 409.7 362.1 410 362.7 410.3 363.3 410.4 364 410.5 364.6Z" fill="#7e7e7e" stroke="#000" stroke-width="1.2"/><path d="M368.9 330.7L367 331.9 365.3 333.2 363.9 334.6 362.7 336 361.8 337.4 361.1 338.9 360.7 340.5 360.6 342 360.6 347.6 360.7 349.1 361.1 350.7 361.8 352.2 362.7 353.6 363.9 355 365.3 356.4 367 357.7 368.9 358.9 371 360 373.2 361.1 375.7 362 378.3 362.8 381 363.6 383.9 364.1 386.8 364.6 389.9 364.9 392.9 365.1 396 365.2 399.1 365.1 402.1 364.9 405.2 364.6 408.1 364.1 411 363.6 413.7 362.8 416.3 362 418.8 361.1 421 360 423.1 358.9 425 357.7 426.7 356.4 428.1 355 429.3 353.6 430.2 352.2 430.9 350.7 431.3 349.1 431.4 347.6 431.4 342 431.3 340.5 430.9 338.9 430.2 337.4 429.3 336 428.1 334.6 426.7 333.2 425 331.9 423.1 330.7 421 329.6 418.8 328.5 416.3 327.6 413.7 326.8 411 326 408.1 325.5 405.2 325 402.1 324.7 399.1 324.5 396 324.4 392.9 324.5 389.9 324.7 386.8 325 383.9 325.5 381 326 378.3 326.8 375.7 327.6 373.2 328.5 371 329.6Z" fill="#6c6c6c" stroke="#000" stroke-width="1.4"/><path d="M431.4 342L431.3 343.5 430.9 345.1 430.2 346.6 429.3 348 428.1 349.4 426.7 350.8 425 352.1 423.1 353.3 421 354.4 418.8 355.5 416.3 356.4 413.7 357.2 411 358 408.1 358.5 405.2 359 402.1 359.3 399.1 359.5 396 359.6 392.9 359.5 389.9 359.3 386.8 359 383.9 358.5 381 358 378.3 357.2 375.7 356.4 373.2 355.5 371 354.4 368.9 353.3 367 352.1 365.3 350.8 363.9 349.4 362.7 348 361.8 346.6 361.1 345.1 360.7 343.5 360.6 342 360.7 340.5 361.1 338.9 361.8 337.4 362.7 336 363.9 334.6 365.3 333.2 367 331.9 368.9 330.7 371 329.6 373.2 328.5 375.7 327.6 378.3 326.8 381 326 383.9 325.5 386.8 325 389.9 324.7 392.9 324.5 396 324.4 399.1 324.5 402.1 324.7 405.2 325 408.1 325.5 411 326 413.7 326.8 416.3 327.6 418.8 328.5 421 329.6 423.1 330.7 425 331.9 426.7 333.2 428.1 334.6 429.3 336 430.2 337.4 430.9 338.9 431.3 340.5Z" fill="#a4a4a4" stroke="#000" stroke-width="1.2"/><path d="M404.5 343.6L404.5 343.9 404.4 344.1 404.2 344.4 404 344.6 403.7 344.9 403.4 345.1 403 345.3 402.6 345.5 402.1 345.7 401.6 345.9 401 346.1 400.4 346.2 399.8 346.3 399.1 346.4 398.4 346.5 397.7 346.6 397 346.6 396.3 346.6 395.6 346.6 394.9 346.6 394.2 346.5 393.5 346.4 392.8 346.3 392.2 346.2 391.6 346.1 391 345.9 390.5 345.7 390 345.5 389.6 345.3 389.2 345.1 388.9 344.9 388.6 344.6 388.4 344.4 388.2 344.1 388.1 343.9 388.1 343.6 388.1 343.3 388.2 343.1 388.4 342.8 388.6 342.6 388.9 342.3 389.2 342.1 389.6 341.9 390 341.7 390.5 341.5 391 341.3 391.6 341.1 392.2 341 392.8 340.9 393.5 340.8 394.2 340.7 394.9 340.6 395.6 340.6 396.3 340.6 397 340.6 397.7 340.6 398.4 340.7 399.1 340.8 399.8 340.9 400.4 341 401 341.1 401.6 341.3 402.1 341.5 402.6 341.7 403 341.9 403.4 342.1 403.7 342.3 404 342.6 404.2 342.8 404.4 343.1 404.5 343.3 404.5 343.6Z" fill="#4e4e4e" stroke="#000" stroke-width="1.2"/></g>
<g id="blackback" stroke-linejoin="round"><path d="M571 113.6Q636 91.4 698.6 73L699.4 110.6Q702 113.2 707.5 111.2L743 98.4L781 105Q798 110 804.4 124L805 177L700 214L600 234L589 181Z" fill="url(#gTopB)" stroke="#000" stroke-width="1.6"/><path d="M672 81.4Q655.5 87.5 657.4 97Q661 110.4 681 111.2L699.4 111L698.6 73.4Z" fill="#404040" stroke="none" stroke-width="0"/><path d="M672 81.4Q655.5 87.5 657.4 97Q661 110.4 681 111.2L699.4 111" fill="none" stroke="#000" stroke-width="1.4"/><path d="M617 153.5L638 165L617 172Z" fill="#3b3b3b" stroke="none" stroke-width="0"/><path d="M571 113.6L585 113L629 140L638 165L618 153Z" fill="#232323" stroke="#000" stroke-width="1.4"/><path d="M743 98.4Q760 107 772 120Q790 130.5 804.4 128.6L804.4 124Q798 110 781 105Z" fill="#3a3a3a" stroke="#000" stroke-width="1.4"/></g>
<g id="redpillar" stroke-linejoin="round"><path d="M552 208L619 184L619 277L552 277Z" fill="#a62020" stroke="#000" stroke-width="1.6"/><path d="M560 210.4L586.4 227.4L589 229.4L571 235.4L556 220Z" fill="#bf1e1f" stroke="#000" stroke-width="1.2"/><path d="M563 209L589 200V228.4L586.4 227.4Z" fill="#530f10" stroke="#000" stroke-width="1.2"/></g>
<g id="greenwheel" stroke-linejoin="round"><path d="M251.2 195.5L246 199.4 241.2 203.4 236.8 207.5 232.9 211.7 229.4 216.1 226.3 220.5 223.8 225 221.7 229.5 220 234.1 218.9 238.7 218.2 243.3 218 248 218 255.2 218.3 259.8 219.1 264.4 220.4 269 222.1 273.5 224.3 278 227 282.4 230.2 286.8 233.8 291 237.8 295.1 242.3 299.2 247.2 303.1 252.5 306.8 258.1 310.4 264.2 313.9 270.6 317.2 277.4 320.3 284.5 323.2 291.8 325.9 299.5 328.5 307.4 330.8 315.6 332.9 324 334.8 332.6 336.5 341.3 337.9 350.2 339.1 359.3 340.1 368.4 340.8 377.6 341.3 386.8 341.6 396.1 341.6 405.3 341.4 414.6 340.9 423.8 340.2 432.9 339.2 441.9 338 450.7 336.6 459.4 334.9 468 333.1 476.3 331 484.4 328.6 492.3 326.1 499.9 323.4 507.2 320.5 514.2 317.4 520.9 314.1 527.3 310.7 533.2 307.1 538.8 303.3 544 299.4 548.8 295.4 553.2 291.3 557.1 287.1 560.6 282.7 563.7 278.3 566.2 273.8 568.3 269.3 570 264.7 571.1 260.1 571.8 255.5 572 250.8 572 250.8 572 243.6 572 243.6 571.7 239 570.9 234.4 569.6 229.8 567.9 225.3 565.7 220.8 563 216.4 559.8 212 556.2 207.8 552.2 203.7 547.7 199.6 542.8 195.7 537.5 192 531.9 188.4 525.8 184.9 519.4 181.6 512.6 178.5 505.5 175.6 498.2 172.9 490.5 170.3 482.6 168 474.4 165.9 466 164 457.4 162.3 448.7 160.9 439.8 159.7 430.7 158.7 421.6 158 412.4 157.5 403.2 157.2 393.9 157.2 384.7 157.4 375.4 157.9 366.2 158.6 357.1 159.6 348.1 160.8 339.3 162.2 330.6 163.9 322 165.7 313.7 167.8 305.6 170.2 297.7 172.7 290.1 175.4 282.8 178.3 275.8 181.4 269.1 184.7 262.7 188.1 256.8 191.7Z" fill="#095d0b" stroke="#000" stroke-width="1.8"/><path d="M286.1 226L290.2 228.3 294 230.6 297.4 232.8 300.9 235 304.5 237.2 308 239.4 311.5 241.6 315 243.7 318.5 245.9 322 248 325.5 250.2 328.9 252.3 332.4 254.4 336 256.5 339.8 258.8 343.8 261.3 343.9 261.4 341.2 261.1 336.5 260.8 332.9 260.7 330.7 260.9 329.6 261.3 329.2 262 328.6 262.9 327.9 263.8 327.4 264.9 326.9 266.3 326.4 268.6 325.9 272.1 325.3 276.4 324.8 281 324.4 285 324 288.5 323.7 291.8 323.5 294.7 323.4 297 323.3 298.4 323.3 299 323.6 299.4 324.3 300 325.3 300.8 326.6 301.7 328.5 302.6 331.4 303.6 335.5 304.8 340.5 306.1 346.4 307.4 352.9 308.6 360.6 309.7 369.3 310.9 378 311.8 385.7 312.4 392.1 312.6 397.9 312.4 402.8 312.1 407 311.7 410.2 311.3 412.5 310.9 414.2 310.4 415.7 310 416.8 309.6 417.5 309.3 418 308.9 418.6 308.4 419.1 307.9 419.5 307.5 420.2 306.6 421.4 305 423.5 302.2 426.3 298.5 429.3 294.5 432 291 434.5 287.9 437 284.9 439.2 282.3 441 280 442.2 278.3 443 277 443.4 276 443.6 275 443.6 274 443.4 273.1 442.8 272.3 442 271.4 440.7 270.3 439 269.1 437.3 268 435.7 267.2 434.9 266.9 434.5 266.9 433.6 267 431 267 426 266.7 419.4 266.4 412.2 266 405.7 265.7 400.3 265.6 395.4 265.7 390.3 265.7 384.3 265.4 376.9 264.8 368.5 263.9 360.2 262.9 357.7 262.7 360.9 261.3 365.5 258.8 370 256 374.7 252.8 379.5 249.1 384.1 245.4 388 242 391.1 239.3 393.5 236.9 395.7 234.5 398 232 400.5 229.2 402.9 226.4 405.4 223.3 408 220 410.8 216.3 413.8 212.4 416.8 208.2 420 204 423.5 199.5 427.2 194.8 430.8 190.1 434 186 436.8 182.4 439.4 179.2 441.6 176.4 443.4 174 444.8 172 445.8 170.5 446.4 169.2 446.6 168 446.5 166.8 445.9 165.8 445.1 165 444 164.2 442.7 163.5 441 163 439.1 162.6 437 162.4 434.9 162.2 432.7 162 429.9 162.2 426 163.2 420.5 165.4 413.9 168.4 406.8 171.7 400 174.6 393.6 176.9 387.3 179 381.1 180.9 375 182.6 369.1 184 363.3 185.2 357.6 186.3 352 187.4 346.4 188.6 340.8 189.8 335.3 191 330 192.4 324.9 193.9 319.9 195.4 315 197.3 310 199.6 304.7 202.8 299.3 206.6 294.2 210.4 290 213.6 286.5 216 283.4 217.9 281.4 219.7 281 221.6 282.7 223.8ZM409.8 233.7L410 240 411.6 244.9 414.6 249.2 418.3 252.9 422 256 425.7 258.4 429.7 260 433.8 261.2 438 262 442.2 262.4 446.6 262.3 450.9 261.9 455 261.4 458.9 260.8 462.6 259.9 466.2 259 470 258 474 257 478.1 256 482.1 255 486 254 489.7 253.1 493.2 252.3 496.6 251.4 500 250.6 503.6 249.7 507.2 248.8 510.6 247.9 513.5 247 515.7 246.1 517.5 245.3 518.9 244.4 520 243.6 520.8 242.9 521.3 242.2 521.5 241.4 521.5 240.3 521.3 238.8 520.8 237 520.1 235 519.2 232.7 518.1 230.1 516.7 227.2 515.2 224.2 513.5 221.4 511.6 218.7 509.4 216 507.2 213.5 505 211.5 502.9 210 500.9 208.8 498.8 208 496.5 207.3 494 206.8 491.4 206.5 488.7 206.4 486.1 206.3 483.6 206.3 481.2 206.4 478.6 206.6 475.8 206.8 472.8 207.1 469.6 207.5 466.1 208 462 208.5 457.1 209.1 451.6 209.7 445.8 210.3 440 211 433.7 211.2 427 211 420.8 211.6 416 214 412.8 219.1 410.8 226.2Z" fill="#fff" stroke="none" stroke-width="0"/><g clip-path="url(#clipWR)"><path d="M440 200H530V270H440Z" fill="#fff" stroke="none" stroke-width="0"/><path d="M473 200H486L485.2 214.8L493.7 222.4L497 223.8L483.8 230.4L475.8 246.4L473.6 230Z" fill="#530f10" stroke="#000" stroke-width="1.2"/><path d="M485.2 200H497V223.8L493.7 222.4L485.2 214.8Z" fill="#bf1e1f" stroke="#000" stroke-width="1.2"/><path d="M497.4 200H530V247L522 242L497.5 225.2Z" fill="#bf1e1f" stroke="#000" stroke-width="1.2"/><path d="M483.8 234.2L497 227.5L497.5 225.2L530 247V275H507L484.2 254L475.8 246.4Z" fill="#530f10" stroke="#000" stroke-width="1.2"/><path d="M483.8 230.4L497 223.8L497 227.5L483.8 234.2Z" fill="#fff" stroke="#000" stroke-width="0.9"/></g><path d="M572 243.6L571.7 239 570.9 234.4 569.6 229.8 567.9 225.3 565.7 220.8 563 216.4 559.8 212 556.2 207.8 552.2 203.7 547.7 199.6 542.8 195.7 537.5 192 531.9 188.4 525.8 184.9 519.4 181.6 512.6 178.5 505.5 175.6 498.2 172.9 490.5 170.3 482.6 168 474.4 165.9 466 164 457.4 162.3 448.7 160.9 439.8 159.7 430.7 158.7 421.6 158 412.4 157.5 403.2 157.2 393.9 157.2 384.7 157.4 375.4 157.9 366.2 158.6 357.1 159.6 348.1 160.8 339.3 162.2 330.6 163.9 322 165.7 313.7 167.8 305.6 170.2 297.7 172.7 290.1 175.4 282.8 178.3 275.8 181.4 269.1 184.7 262.7 188.1 256.8 191.7 251.2 195.5 246 199.4 241.2 203.4 236.8 207.5 232.9 211.7 229.4 216.1 226.3 220.5 223.8 225 221.7 229.5 220 234.1 218.9 238.7 218.2 243.3 218 248 218.3 252.6 219.1 257.2 220.4 261.8 222.1 266.3 224.3 270.8 227 275.2 230.2 279.6 233.8 283.8 237.8 287.9 242.3 292 247.2 295.9 252.5 299.6 258.1 303.2 264.2 306.7 270.6 310 277.4 313.1 284.5 316 291.8 318.7 299.5 321.3 307.4 323.6 315.6 325.7 324 327.6 332.6 329.3 341.3 330.7 350.2 331.9 359.3 332.9 368.4 333.6 377.6 334.1 386.8 334.4 396.1 334.4 405.3 334.2 414.6 333.7 423.8 333 432.9 332 441.9 330.8 450.7 329.4 459.4 327.7 468 325.9 476.3 323.8 484.4 321.4 492.3 318.9 499.9 316.2 507.2 313.3 514.2 310.2 520.9 306.9 527.3 303.5 533.2 299.9 538.8 296.1 544 292.2 548.8 288.2 553.2 284.1 557.1 279.9 560.6 275.5 563.7 271.1 566.2 266.6 568.3 262.1 570 257.5 571.1 252.9 571.8 248.3 572 243.6ZM281 221.6L281.4 219.7 283.4 217.9 286.5 216 290 213.6 294.2 210.4 299.3 206.6 304.7 202.8 310 199.6 315 197.3 319.9 195.4 324.9 193.9 330 192.4 335.3 191 340.8 189.8 346.4 188.6 352 187.4 357.6 186.3 363.3 185.2 369.1 184 375 182.6 381.1 180.9 387.3 179 393.6 176.9 400 174.6 406.8 171.7 413.9 168.4 420.5 165.4 426 163.2 429.9 162.2 432.7 162 434.9 162.2 437 162.4 439.1 162.6 441 163 442.7 163.5 444 164.2 445.1 165 445.9 165.8 446.5 166.8 446.6 168 446.4 169.2 445.8 170.5 444.8 172 443.4 174 441.6 176.4 439.4 179.2 436.8 182.4 434 186 430.8 190.1 427.2 194.8 423.5 199.5 420 204 416.8 208.2 413.8 212.4 410.8 216.3 408 220 405.4 223.3 402.9 226.4 400.5 229.2 398 232 395.7 234.5 393.5 236.9 391.1 239.3 388 242 384.1 245.4 379.5 249.1 374.7 252.8 370 256 365.5 258.8 360.9 261.3 357.7 262.7 360.2 262.9 368.5 263.9 376.9 264.8 384.3 265.4 390.3 265.7 395.4 265.7 400.3 265.6 405.7 265.7 412.2 266 419.4 266.4 426 266.7 431 267 433.6 267 434.5 266.9 434.9 266.9 435.7 267.2 437.3 268 439 269.1 440.7 270.3 442 271.4 442.8 272.3 443.4 273.1 443.6 274 443.6 275 443.4 276 443 277 442.2 278.3 441 280 439.2 282.3 437 284.9 434.5 287.9 432 291 429.3 294.5 426.3 298.5 423.5 302.2 421.4 305 420.2 306.6 419.5 307.5 419.1 307.9 418.6 308.4 418 308.9 417.5 309.3 416.8 309.6 415.7 310 414.2 310.4 412.5 310.9 410.2 311.3 407 311.7 402.8 312.1 397.9 312.4 392.1 312.6 385.7 312.4 378 311.8 369.3 310.9 360.6 309.7 352.9 308.6 346.4 307.4 340.5 306.1 335.5 304.8 331.4 303.6 328.5 302.6 326.6 301.7 325.3 300.8 324.3 300 323.6 299.4 323.3 299 323.3 298.4 323.4 297 323.5 294.7 323.7 291.8 324 288.5 324.4 285 324.8 281 325.3 276.4 325.9 272.1 326.4 268.6 326.9 266.3 327.4 264.9 327.9 263.8 328.6 262.9 329.2 262 329.6 261.3 330.7 260.9 332.9 260.7 336.5 260.8 341.2 261.1 343.9 261.4 343.8 261.3 339.8 258.8 336 256.5 332.4 254.4 328.9 252.3 325.5 250.2 322 248 318.5 245.9 315 243.7 311.5 241.6 308 239.4 304.5 237.2 300.9 235 297.4 232.8 294 230.6 290.2 228.3 286.1 226 282.7 223.8ZM412.8 219.1L416 214 420.8 211.6 427 211 433.7 211.2 440 211 445.8 210.3 451.6 209.7 457.1 209.1 462 208.5 466.1 208 469.6 207.5 472.8 207.1 475.8 206.8 478.6 206.6 481.2 206.4 483.6 206.3 486.1 206.3 488.7 206.4 491.4 206.5 494 206.8 496.5 207.3 498.8 208 500.9 208.8 502.9 210 505 211.5 507.2 213.5 509.4 216 511.6 218.7 513.5 221.4 515.2 224.2 516.7 227.2 518.1 230.1 519.2 232.7 520.1 235 520.8 237 521.3 238.8 521.5 240.3 521.5 241.4 521.3 242.2 520.8 242.9 520 243.6 518.9 244.4 517.5 245.3 515.7 246.1 513.5 247 510.6 247.9 507.2 248.8 503.6 249.7 500 250.6 496.6 251.4 493.2 252.3 489.7 253.1 486 254 482.1 255 478.1 256 474 257 470 258 466.2 259 462.6 259.9 458.9 260.8 455 261.4 450.9 261.9 446.6 262.3 442.2 262.4 438 262 433.8 261.2 429.7 260 425.7 258.4 422 256 418.3 252.9 414.6 249.2 411.6 244.9 410 240 409.8 233.7 410.8 226.2Z" fill="#0b830c" stroke="#000" stroke-width="1.7" fill-rule="evenodd"/><path d="M283.4 223.6L286.5 221.7 290 219.3 294.2 216.1 299.3 212.2 304.7 208.5 310 205.3 315 203 319.9 201.1 324.9 199.6 330 198.1 335.3 196.7 340.8 195.5 346.4 194.3 352 193.1 357.6 192 363.3 190.9 369.1 189.7 375 188.3 381.1 186.6 387.3 184.7 393.6 182.6 400 180.3 406.8 177.4 413.9 174.1 420.5 171.1 426 168.9 429.9 167.9 432.7 167.7 434.9 167.9 437 168.1 439.1 168.3 441 168.7 442.7 169.2 444 169.9 445.1 170.7 445.4 171 445.8 170.5 446.4 169.2 446.6 168 446.5 166.8 445.9 165.8 445.1 165 444 164.2 442.7 163.5 441 163 439.1 162.6 437 162.4 434.9 162.2 432.7 162 429.9 162.2 426 163.2 420.5 165.4 413.9 168.4 406.8 171.7 400 174.6 393.6 176.9 387.3 179 381.1 180.9 375 182.6 369.1 184 363.3 185.2 357.6 186.3 352 187.4 346.4 188.6 340.8 189.8 335.3 191 330 192.4 324.9 193.9 319.9 195.4 315 197.3 310 199.6 304.7 202.8 299.3 206.6 294.2 210.4 290 213.6 286.5 216 283.4 217.9 281.4 219.7 281 221.6 282.7 223.8 283 224ZM330.7 260.9L329.6 261.3 329.2 262 328.6 262.9 327.9 263.8 327.4 264.9 326.9 266.3 326.4 268.6 325.9 272.1 325.3 276.4 324.8 281 324.4 285 324 288.5 323.7 291.8 323.5 294.7 323.4 297 323.3 298.4 323.3 299 323.6 299.4 323.7 297.5 324 294.2 324.4 290.7 324.8 286.7 325.3 282.1 325.9 277.8 326.4 274.3 326.9 272 327.4 270.6 327.9 269.5 328.6 268.6 329.2 267.7 329.6 267 330.7 266.6 332.9 266.4 336.5 266.5 341.2 266.8 343.9 267.1 343.8 267 339.8 264.5 336 262.2 333.4 260.7 332.9 260.7ZM443.4 276L443.6 275 443.6 274 443.4 273.1 442.8 272.3 442 271.4 440.7 270.3 439 269.1 437.3 268 435.9 267.3 434.2 267 433.6 267 431 267 426 266.7 419.4 266.4 412.2 266 405.7 265.7 400.3 265.6 395.4 265.7 390.3 265.7 384.3 265.4 376.9 264.8 368.5 263.9 366.8 263.7 365.5 264.5 360.9 267 357.7 268.4 360.2 268.6 368.5 269.6 376.9 270.5 384.3 271.1 390.3 271.4 395.4 271.4 400.3 271.3 405.7 271.4 412.2 271.7 419.4 272.1 426 272.4 431 272.7 433.6 272.7 434.5 272.6 434.9 272.6 435.7 272.9 437.3 273.7 439 274.8 440.7 276 442 277.1 442.6 277.7 443 277ZM409.9 238.3L410.8 231.9 412.8 224.8 416 219.7 420.8 217.3 427 216.7 433.7 216.9 440 216.7 445.8 216 451.6 215.4 457.1 214.8 462 214.2 466.1 213.7 469.6 213.2 472.8 212.8 475.8 212.5 478.6 212.3 481.2 212.1 483.6 212 486.1 212 488.7 212.1 491.4 212.2 494 212.5 496.5 213 498.8 213.7 500.9 214.5 502.9 215.7 505 217.2 507.2 219.2 509.4 221.7 511.6 224.4 513.5 227.1 515.2 229.9 516.7 232.9 518.1 235.8 519.2 238.4 520.1 240.7 520.8 242.7 520.8 242.8 521.3 242.2 521.5 241.4 521.5 240.3 521.3 238.8 520.8 237 520.1 235 519.2 232.7 518.1 230.1 516.7 227.2 515.2 224.2 513.5 221.4 511.6 218.7 509.4 216 507.2 213.5 505 211.5 502.9 210 500.9 208.8 498.8 208 496.5 207.3 494 206.8 491.4 206.5 488.7 206.4 486.1 206.3 483.6 206.3 481.2 206.4 478.6 206.6 475.8 206.8 472.8 207.1 469.6 207.5 466.1 208 462 208.5 457.1 209.1 451.6 209.7 445.8 210.3 440 211 433.7 211.2 427 211 420.8 211.6 417.2 213.4 416.8 213.9 413.8 218.1 412.7 219.5 410.8 226.2 409.8 233.7Z" fill="#0a5e0c" stroke="#000" stroke-width="0.9"/></g>
<g id="staff"><path d="M385.6 232V312.4H407V232Z" fill="url(#gStaff)" stroke="none" stroke-width="0"/><path d="M385.6 232V312.4M407 232V312.4" fill="none" stroke="#000" stroke-width="1.4"/></g>
<g id="spring" stroke-linejoin="round"><path d="M386.3 215.7L384.6 216.2 381.7 217.3 379.3 218.6 377.4 220.1 376 221.8 375.3 223.5 375.1 224.3 375.2 227.1 376.3 227.1 376.4 225.4 376.7 224.5 377.6 222.9 378.3 222.1 380.2 220.6 382.5 219.3 385.2 218.2 386.7 217.8 390 217.1 393.5 216.8 397.1 216.8 400.7 217.1 404.3 217.7 407.6 218.6 410.6 219.9 413.1 221.4 415.2 223.1 416.7 224.9 417.2 225.9 417.6 226.9 417.8 227.9 418.9 227.9 418.9 225.2 418.7 224.2 418.4 223.2 417.1 221.3 416.3 220.4 414.1 218.8 412.8 218 409.9 216.7 408.2 216.2 404.7 215.3 402.9 215 399.1 214.6 397.2 214.5 393.4 214.6 389.7 215Z" fill="#4e4a4e" stroke="#000" stroke-width="1.4"/><path d="M383.3 212.6L381.2 213.2 377.3 214.7 374 216.4 371.4 218.4 370.4 219.5 369.5 220.6 368.9 221.7 368.5 222.9 368.3 224 368.2 227.1 369.4 227.1 369.4 225.9 369.6 224.8 370 223.6 370.6 222.5 371.4 221.4 372.4 220.4 373.5 219.4 376.4 217.5 379.8 216 381.8 215.3 386 214.3 390.5 213.6 395.3 213.4 400.1 213.6 402.5 213.8 407.2 214.6 411.5 215.9 415.4 217.5 418.8 219.4 420.2 220.5 421.5 221.6 422.5 222.8 423.4 224 424 225.3 424.4 226.6 424.7 227.9 425.8 227.9 425.8 225.2 425.6 223.9 425.1 222.6 424.5 221.4 423.6 220.2 422.5 219 421.2 217.9 419.7 216.8 418.1 215.8 414.3 214.1 412.2 213.4 407.7 212.2 405.3 211.8 400.3 211.2 397.8 211.1 392.8 211.2 387.9 211.7Z" fill="#4e4a4e" stroke="#000" stroke-width="1.4"/><path d="M380.4 209.6L377.7 210.3 372.9 212.1 370.7 213.1 368.7 214.3 366.9 215.5 365.4 216.7 364.1 218.1 363 219.4 362.2 220.9 361.7 222.3 361.4 223.7 361.4 227.1 362.5 227.1 362.5 225.6 362.8 224.2 363.3 222.8 364.1 221.4 365.1 220 366.4 218.7 367.9 217.4 369.6 216.2 371.5 215.1 373.6 214.1 375.9 213.2 378.3 212.4 383.6 211.1 389.3 210.3 395.3 210 401.3 210.2 404.3 210.5 410.1 211.6 415.5 213.1 418 214.1 420.3 215.1 422.5 216.2 424.4 217.5 426.2 218.8 427.7 220.2 429 221.7 430 223.2 430.8 224.7 431.3 226.3 431.6 227.9 432.7 227.9 432.7 225.2 432.5 223.6 431.9 222 431.1 220.5 430.1 219 428.8 217.6 427.2 216.2 425.4 214.9 423.4 213.7 421.1 212.5 418.7 211.5 416.1 210.6 413.4 209.8 407.6 208.6 404.6 208.2 398.4 207.7 395.3 207.7 389.1 208.1 386.1 208.5Z" fill="#4e4a4e" stroke="#000" stroke-width="1.4"/><path d="M377.5 206.5L374.3 207.4 371.3 208.4 368.4 209.5 365.8 210.7 363.4 212.1 361.3 213.5 359.4 215.1 357.8 216.6 356.6 218.3 355.6 220 354.9 221.7 354.5 223.5 354.4 227.1 355.6 227.1 355.7 225.3 356 223.6 356.7 221.9 357.6 220.2 358.9 218.6 360.4 217 362.2 215.5 364.3 214.1 366.6 212.7 369.2 211.5 371.9 210.4 374.9 209.4 378 208.6 381.3 207.9 384.7 207.3 388.1 206.9 395.3 206.6 402.5 206.9 406.1 207.3 409.6 207.8 413 208.5 416.3 209.4 419.4 210.3 422.4 211.5 425.2 212.7 427.8 214.1 430.1 215.5 432.2 217.1 434 218.8 435.5 220.5 436.7 222.3 437.6 224.1 438.2 226 438.5 227.9 439.6 227.9 439.6 225.2 439.3 223.3 438.7 221.4 437.8 219.6 436.6 217.8 435 216.1 433.2 214.5 431 212.9 428.6 211.5 426 210.1 423.2 208.9 420.1 207.8 416.9 206.9 413.5 206.1 410 205.4 406.4 204.9 402.7 204.6 399 204.4 395.3 204.3 387.9 204.7 384.4 205.2 380.9 205.8Z" fill="#4e4a4e" stroke="#000" stroke-width="1.4"/><path d="M374.6 203.4L370.8 204.4 367.3 205.6 364 206.9 360.9 208.4 358.1 209.9 355.6 211.6 353.4 213.4 351.6 215.2 350.1 217.1 348.9 219.1 348.1 221.1 347.6 223.2 347.6 227.1 348.7 227.1 348.8 225.1 349.2 223 350 221 351.2 219 352.6 217.1 354.4 215.3 356.6 213.5 359 211.9 361.7 210.3 364.7 208.9 368 207.7 371.4 206.5 375.1 205.5 378.9 204.7 382.9 204.1 386.9 203.6 391.1 203.3 395.3 203.2 399.5 203.3 403.7 203.6 407.9 204 412 204.6 415.9 205.5 419.7 206.4 423.4 207.6 426.9 208.9 430.1 210.3 433.1 211.9 435.7 213.6 438.1 215.4 440.2 217.3 442 219.3 443.4 221.4 444.4 223.5 445.1 225.7 445.4 227.9 446.5 227.9 446.5 225.2 446.2 223 445.5 220.9 444.5 218.7 443.1 216.7 441.3 214.7 439.1 212.8 436.7 211 433.9 209.3 430.9 207.8 427.6 206.3 424.1 205.1 420.3 204 416.4 203 412.4 202.2 408.2 201.6 403.9 201.2 399.6 201 395.3 201 391 201.1 386.7 201.4 382.6 201.9 378.5 202.6Z" fill="#4e4a4e" stroke="#000" stroke-width="1.4"/><path d="M371.7 200.4L367.4 201.5 363.3 202.8 359.6 204.3 356 206 352.8 207.7 350 209.7 347.5 211.7 345.3 213.8 343.6 216 342.2 218.2 341.3 220.5 340.8 222.9 340.7 227.1 341.8 227.1 341.9 224.8 342.4 222.4 343.3 220.1 344.7 217.9 346.4 215.7 348.5 213.6 350.9 211.6 353.7 209.7 356.9 208 360.3 206.3 364 204.9 368 203.6 372.2 202.5 376.5 201.5 381.1 200.8 385.7 200.3 390.5 200 395.3 199.8 400.1 199.9 404.9 200.2 409.7 200.7 414.3 201.5 418.8 202.4 423.2 203.5 427.4 204.8 431.3 206.3 435 207.9 438.3 209.7 441.4 211.7 444.1 213.7 446.5 215.9 448.5 218.2 450 220.5 451.2 223 451.9 225.4 452.2 227.9 453.4 227.9 453.4 225.2 453.1 222.7 452.3 220.3 451.1 217.9 449.5 215.5 447.5 213.3 445.1 211.1 442.3 209.1 439.2 207.1 435.8 205.4 432 203.8 428 202.3 423.8 201 419.3 200 414.7 199.1 410 198.4 405.1 197.9 400.2 197.6 395.3 197.6 390.4 197.7 385.5 198.1 380.8 198.7 376.1 199.4Z" fill="#4e4a4e" stroke="#000" stroke-width="1.4"/><path d="M368.8 197.3L363.9 198.6 359.4 200.1 355.1 201.7 351.2 203.6 347.6 205.6 344.3 207.7 341.5 210 339.1 212.4 337.1 214.8 335.6 217.4 334.5 219.9 333.9 222.6 333.8 227.1 334.9 227.1 335 224.5 335.6 221.8 336.7 219.3 338.2 216.7 340.1 214.3 342.5 211.9 345.3 209.7 348.4 207.5 352 205.6 355.9 203.8 360.1 202.1 364.5 200.7 369.2 199.4 374.2 198.4 379.3 197.5 384.5 197 389.9 196.6 395.3 196.5 400.7 196.6 406.1 196.9 411.5 197.5 416.7 198.3 421.8 199.3 426.6 200.6 431.3 202 435.7 203.7 439.8 205.5 443.6 207.6 447.1 209.7 450.1 212 452.7 214.5 454.9 217 456.7 219.7 458 222.4 458.8 225.1 459.2 227.9 460.3 227.9 460.3 225.2 460 222.4 459.1 219.7 457.8 217 456 214.4 453.8 211.8 451.1 209.4 448 207.1 444.5 205 440.7 203 436.5 201.2 432 199.5 427.2 198.1 422.2 196.9 417.1 195.9 411.8 195.1 406.3 194.6 400.8 194.3 395.3 194.2 389.8 194.4 384.3 194.8 379 195.4 373.8 196.2Z" fill="#4e4a4e" stroke="#000" stroke-width="1.4"/><path d="M365.8 194.2L360.5 195.7 355.4 197.3 350.7 199.1 346.3 201.2 342.3 203.4 338.7 205.8 335.5 208.3 332.8 210.9 330.6 213.7 328.9 216.5 327.7 219.4 327 222.3 326.9 227.1 328 227.1 328.2 224.2 328.8 221.3 330 218.4 331.7 215.6 333.9 212.8 336.5 210.2 339.6 207.7 343.2 205.4 347.1 203.2 351.4 201.2 356.1 199.3 361.1 197.7 366.3 196.3 371.8 195.2 377.5 194.3 383.3 193.6 389.3 193.2 395.3 193.1 401.3 193.2 407.3 193.6 413.2 194.2 419 195.1 424.7 196.3 430.1 197.6 435.3 199.3 440.2 201.1 444.7 203.1 448.9 205.4 452.7 207.8 456.1 210.4 459 213.1 461.4 215.9 463.4 218.8 464.8 221.8 465.7 224.8 466.1 227.9 467.2 227.9 467.2 225.2 466.8 222.1 465.9 219.1 464.5 216.1 462.5 213.2 460 210.4 457.1 207.7 453.6 205.2 449.8 202.8 445.5 200.6 440.9 198.6 435.9 196.8 430.7 195.2 425.2 193.8 419.4 192.7 413.5 191.8 407.5 191.2 401.4 190.9 395.3 190.8 389.2 191 383.1 191.4 377.2 192.1 371.4 193.1Z" fill="#4e4a4e" stroke="#000" stroke-width="1.4"/><path d="M362.9 191.2L357.1 192.7 351.5 194.5 346.2 196.6 341.4 198.8 337 201.2 333 203.8 329.5 206.6 326.6 209.5 324.1 212.5 322.2 215.6 320.9 218.8 320.1 222 319.9 227.1 321.1 227.1 321.3 223.9 322 220.7 323.4 217.5 325.2 214.4 327.6 211.4 330.5 208.5 334 205.8 337.9 203.2 342.2 200.8 347 198.6 352.1 196.6 357.6 194.8 363.4 193.3 369.5 192 375.7 191 382.1 190.3 388.7 189.9 395.3 189.7 401.9 189.8 408.5 190.2 415 191 421.4 191.9 427.6 193.2 433.5 194.7 439.2 196.5 444.6 198.5 449.6 200.8 454.2 203.2 458.4 205.8 462 208.7 465.2 211.6 467.9 214.7 470 217.9 471.6 221.2 472.6 224.5 473 227.9 474.1 227.9 474.1 225.2 473.7 221.8 472.7 218.5 471.1 215.2 469 212.1 466.3 209 463 206 459.3 203.2 455.1 200.6 450.4 198.2 445.3 196 439.9 194 434.1 192.2 428.1 190.8 421.8 189.5 415.3 188.6 408.7 187.9 402 187.5 395.3 187.4 388.6 187.6 381.9 188.1 375.4 188.9 369.1 189.9Z" fill="#4e4a4e" stroke="#000" stroke-width="1.4"/><path d="M360 188.1L353.6 189.8 347.5 191.8 341.8 194 336.5 196.4 331.7 199.1 327.4 201.9 323.6 204.9 320.3 208.1 317.7 211.4 315.6 214.7 314.1 218.2 313.3 221.7 313.1 227.1 314.2 227.1 314.4 223.6 315.2 220.1 316.7 216.6 318.7 213.3 321.4 210 324.6 206.8 328.3 203.8 332.6 201 337.3 198.4 342.6 196 348.2 193.8 354.2 191.9 360.5 190.2 367.1 188.8 373.9 187.8 381 187 388.1 186.5 395.3 186.3 402.5 186.5 409.7 186.9 416.8 187.7 423.8 188.8 430.5 190.1 437 191.8 443.2 193.7 449 195.9 454.5 198.4 459.5 201 464 203.9 468 207 471.5 210.2 474.4 213.6 476.7 217 478.4 220.6 479.4 224.2 479.9 227.9 481 227.9 481 225.2 480.6 221.5 479.5 217.9 477.8 214.4 475.5 210.9 472.5 207.6 469 204.3 465 201.3 460.4 198.4 455.3 195.8 449.8 193.4 443.9 191.2 437.6 189.3 431 187.7 424.2 186.4 417.1 185.3 409.9 184.6 402.6 184.2 395.3 184.1 388 184.3 380.8 184.8 373.6 185.6 366.7 186.7Z" fill="#4e4a4e" stroke="#000" stroke-width="1.4"/><path d="M321.7 200L317.6 203.2 314.1 206.6 311.2 210.2 308.9 213.9 307.3 217.6 306.4 221.4 306.1 225.2 306.1 227.1 307.3 227.1 307.5 223.3 308.4 219.5 310 215.8 312.2 212.1 315.1 208.6 318.6 205.2 322.7 201.9 327.3 198.8 332.5 196 338.1 193.4 344.2 191 350.7 188.9 357.6 187.2 364.7 185.7 372.2 184.5 379.8 183.6 387.5 183.1 395.3 182.9 403.1 183.1 410.9 183.6 418.6 184.4 418.9 183.9 418.9 182.1 411.1 181.3 403.2 180.8 395.3 180.7 387.4 180.9 379.6 181.4 371.9 182.3 364.4 183.5 357.1 185.1 350.1 186.9 343.6 189 337.4 191.4 331.7 194 326.4 196.9Z" fill="#4e4a4e" stroke="#000" stroke-width="1.4"/><path d="M370.2 231.8L372.4 233.9 375.2 235.9 378.5 237.5 382.4 238.8 386.5 239.8 390.9 240.3 395.3 240.5 397.5 240.4 401.8 240 405.8 239.2 409.4 238.1 412.6 236.7 415.2 235 417.1 233.1 417.8 232.1 418.4 231.1 418.7 230 418.9 229 418.9 225.2 417.8 225.2 417.8 226.2 417.6 227.1 417.3 228.1 416.8 229 415.2 230.8 413.1 232.5 410.3 234 407.1 235.2 403.4 236.2 401.5 236.5 397.4 237 395.3 237 391.1 237 386.9 236.5 384.9 236.1 381 235.2 377.6 233.9 376 233.1 373.4 231.4 371.3 229.5 370.6 228.4 370 227.4 369.6 226.3 369.4 225.2 368.2 225.2 368.2 227.1 368.4 228.3 368.8 229.5 369.4 230.7Z" fill="url(#gSpring)" stroke="#000" stroke-width="1"/><path d="M363.8 233L365 234.3 366.4 235.6 368 236.9 369.9 238 374.1 240.1 378.9 241.7 384.1 242.9 389.7 243.7 395.3 243.9 398.1 243.8 403.6 243.3 408.7 242.3 413.4 240.9 417.5 239.1 419.3 238 420.8 236.9 422.2 235.8 423.4 234.5 424.3 233.3 425 231.9 425.5 230.6 425.8 229.3 425.8 225.2 424.7 225.2 424.6 226.5 424.4 227.7 423.9 229 423.2 230.2 422.3 231.4 421.2 232.5 419.9 233.6 418.4 234.7 414.8 236.6 410.6 238.1 405.8 239.3 400.7 240.1 395.3 240.4 392.6 240.4 387.2 240 382 239.2 379.5 238.6 374.8 237.2 370.8 235.3 369 234.2 367.4 233.1 366 231.9 364.8 230.6 363.9 229.3 363.2 228 362.7 226.6 362.5 225.2 361.4 225.2 361.4 227.1 361.6 228.6 362.1 230.1 362.8 231.5Z" fill="url(#gSpring)" stroke="#000" stroke-width="1"/><path d="M357.3 234.1L358.7 235.8 360.4 237.3 362.4 238.8 364.6 240.2 367 241.5 369.7 242.7 372.5 243.7 375.4 244.7 378.6 245.5 381.8 246.1 388.5 247 395.3 247.3 398.7 247.2 405.4 246.6 411.6 245.4 414.6 244.6 417.4 243.7 420 242.6 422.4 241.5 424.5 240.2 426.5 238.9 428.2 237.5 429.6 236 430.8 234.4 431.7 232.8 432.3 231.2 432.7 229.6 432.7 225.2 431.6 225.2 431.5 226.8 431.2 228.3 430.6 229.8 429.7 231.3 428.6 232.8 427.2 234.2 425.5 235.6 423.7 236.9 421.5 238.1 419.2 239.2 416.7 240.2 414 241.1 408.2 242.5 401.9 243.4 395.3 243.8 392 243.8 385.4 243.3 379 242.3 376 241.6 373.1 240.7 370.4 239.7 367.8 238.7 365.5 237.5 363.3 236.2 361.4 234.8 359.8 233.3 358.4 231.8 357.2 230.2 356.4 228.6 355.8 226.9 355.6 225.2 354.4 225.2 354.4 227.1 354.7 228.9 355.3 230.7 356.1 232.4Z" fill="url(#gSpring)" stroke="#000" stroke-width="1"/><path d="M350.8 235.3L352.5 237.2 354.4 239 356.7 240.7 359.3 242.4 362.1 243.9 365.2 245.3 368.5 246.5 372 247.6 375.6 248.5 379.4 249.3 383.3 249.9 387.3 250.3 391.3 250.6 395.3 250.7 399.3 250.6 403.3 250.3 407.1 249.8 410.9 249.2 414.5 248.4 418 247.5 421.3 246.4 424.4 245.2 427.2 243.9 429.8 242.4 432.1 240.8 434.2 239.1 435.9 237.4 437.3 235.6 438.4 233.7 439.1 231.8 439.5 229.8 439.6 225.2 438.5 225.2 438.4 227 438 228.9 437.3 230.7 436.2 232.5 434.8 234.2 433.2 235.9 431.2 237.5 428.9 239 426.4 240.4 423.7 241.8 420.7 242.9 417.4 244 414.1 244.9 410.5 245.7 406.8 246.3 403.1 246.8 399.2 247.1 395.3 247.2 391.4 247.2 387.5 246.9 383.6 246.6 379.8 246 376.1 245.3 372.6 244.5 369.2 243.5 366 242.3 363 241 360.2 239.6 357.7 238.1 355.4 236.5 353.5 234.8 351.9 232.9 350.6 231.1 349.6 229.1 349 227.2 348.7 225.2 347.6 225.2 347.6 227.1 347.8 229.2 348.5 231.3 349.5 233.3Z" fill="url(#gSpring)" stroke="#000" stroke-width="1"/><path d="M344.3 236.4L346.2 238.6 348.5 240.7 351.1 242.7 354 244.6 357.3 246.3 360.8 247.9 364.6 249.3 368.6 250.5 372.7 251.6 377.1 252.5 381.5 253.2 386.1 253.7 390.7 253.9 395.3 254 399.9 253.9 404.5 253.6 408.9 253.1 413.3 252.4 417.5 251.5 421.5 250.4 425.3 249.2 428.8 247.8 432.1 246.2 435.1 244.6 437.8 242.8 440.1 240.8 442.1 238.8 443.8 236.7 445 234.6 445.9 232.4 446.4 230.1 446.5 225.2 445.4 225.2 445.3 227.3 444.8 229.5 443.9 231.6 442.7 233.7 441.1 235.7 439.1 237.6 436.8 239.5 434.2 241.2 431.3 242.8 428.1 244.3 424.6 245.7 420.9 246.9 417 248 412.9 248.9 408.6 249.6 404.3 250.1 399.8 250.4 395.3 250.6 390.8 250.5 386.3 250.3 381.8 249.8 377.5 249.2 373.2 248.4 369.1 247.4 365.2 246.3 361.5 244.9 358.1 243.4 354.9 241.8 352 240 349.5 238.2 347.2 236.2 345.4 234.1 343.9 231.9 342.8 229.7 342.1 227.5 341.8 225.2 340.7 225.2 340.7 227.1 341 229.5 341.7 231.8 342.8 234.2Z" fill="url(#gSpring)" stroke="#000" stroke-width="1"/><path d="M337.8 237.6L340 240 342.5 242.4 345.4 244.6 348.7 246.7 352.4 248.7 356.4 250.4 360.6 252 365.1 253.5 369.8 254.7 374.7 255.6 379.7 256.4 384.9 257 390.1 257.3 395.3 257.4 400.5 257.3 405.7 256.9 410.7 256.4 415.6 255.6 420.4 254.6 424.9 253.4 429.2 252 433.3 250.4 437 248.6 440.4 246.7 443.4 244.7 446.1 242.5 448.4 240.2 450.3 237.9 451.7 235.4 452.7 233 453.3 230.4 453.4 225.2 452.2 225.2 452.1 227.6 451.6 230.1 450.6 232.5 449.2 234.8 447.3 237.1 445.1 239.3 442.5 241.4 439.5 243.4 436.2 245.2 432.5 246.9 428.6 248.5 424.3 249.9 419.9 251 415.2 252 410.4 252.8 405.5 253.4 400.4 253.8 395.3 254 390.2 253.9 385.1 253.6 380 253.1 375.1 252.4 370.3 251.5 365.7 250.3 361.3 249 357.1 247.5 353.2 245.8 349.6 244 346.4 242 343.5 239.9 341 237.6 338.9 235.3 337.2 232.8 336 230.3 335.2 227.8 334.9 225.2 333.8 225.2 333.8 227.1 334.1 229.8 334.9 232.4 336.1 235Z" fill="url(#gSpring)" stroke="#000" stroke-width="1"/><path d="M331.3 238.7L333.7 241.5 336.5 244.1 339.8 246.6 343.5 248.9 347.5 251.1 351.9 253 356.6 254.8 361.6 256.4 366.9 257.7 372.3 258.8 378 259.7 383.7 260.3 389.5 260.7 395.3 260.8 401.1 260.7 406.9 260.3 412.5 259.6 418 258.7 423.3 257.6 428.4 256.3 433.2 254.7 437.7 253 441.9 251 445.7 248.9 449.1 246.6 452.1 244.2 454.6 241.7 456.7 239 458.4 236.3 459.5 233.5 460.1 230.7 460.3 225.2 459.2 225.2 459 227.9 458.4 230.6 457.3 233.3 455.7 236 453.6 238.5 451.1 241 448.2 243.3 444.8 245.6 441.1 247.6 437 249.5 432.5 251.3 427.8 252.8 422.8 254.1 417.6 255.2 412.2 256.1 406.7 256.8 401 257.2 395.3 257.3 389.6 257.3 383.9 256.9 378.3 256.4 372.7 255.6 367.4 254.5 362.2 253.3 357.3 251.8 352.7 250.1 348.3 248.2 344.3 246.2 340.7 243.9 337.5 241.5 334.7 239 332.4 236.4 330.6 233.7 329.2 230.9 328.4 228.1 328 225.2 326.9 225.2 326.9 227.1 327.2 230.1 328.1 233 329.5 235.9Z" fill="url(#gSpring)" stroke="#000" stroke-width="1"/><path d="M324.9 239.9L327.4 242.9 330.5 245.8 334.1 248.5 338.2 251.1 342.6 253.5 347.5 255.6 352.7 257.6 358.2 259.3 364 260.8 370 262 376.2 263 382.5 263.6 388.9 264 395.3 264.2 401.7 264 408.1 263.6 414.3 262.9 420.4 261.9 426.2 260.7 431.8 259.2 437.1 257.5 442.1 255.6 446.8 253.4 451 251.1 454.7 248.6 458.1 245.9 460.9 243.1 463.2 240.2 465 237.2 466.3 234.1 467 231 467.2 227.9 467.2 225.2 466.1 225.2 465.9 228.2 465.2 231.2 463.9 234.2 462.1 237.1 459.9 240 457.1 242.7 453.8 245.3 450.1 247.7 445.9 250 441.4 252.1 436.5 254 431.2 255.7 425.7 257.2 420 258.4 414 259.4 407.9 260.1 401.6 260.5 395.3 260.7 389 260.6 382.7 260.3 376.5 259.6 370.4 258.7 364.5 257.6 358.8 256.2 353.3 254.6 348.2 252.7 343.4 250.6 339 248.3 335.1 245.9 331.5 243.2 328.5 240.5 325.9 237.6 323.9 234.6 322.4 231.5 321.5 228.4 321.1 225.2 319.9 225.2 319.9 227.1 320.3 230.4 321.3 233.6 322.8 236.8Z" fill="url(#gSpring)" stroke="#000" stroke-width="1"/><path d="M318.4 241L321.2 244.3 324.6 247.5 328.5 250.4 332.9 253.2 337.8 255.8 343 258.2 348.7 260.4 354.7 262.2 361.1 263.8 367.6 265.2 374.4 266.2 381.3 267 388.3 267.4 395.3 267.6 402.3 267.4 409.2 266.9 416.1 266.2 422.7 265.1 429.1 263.8 435.3 262.1 441.1 260.3 446.6 258.2 451.6 255.8 456.3 253.3 460.4 250.5 464 247.6 467.2 244.5 469.7 241.4 471.7 238.1 473.1 234.7 473.9 231.3 474.1 227.9 474.1 225.2 473 225.2 472.7 228.5 472 231.8 470.6 235.1 468.6 238.3 466.1 241.4 463 244.4 459.5 247.2 455.4 249.9 450.8 252.4 445.8 254.7 440.4 256.8 434.7 258.6 428.6 260.2 422.3 261.6 415.8 262.6 409.1 263.4 402.2 263.9 395.3 264.1 388.4 264 381.5 263.6 374.7 262.9 368 261.9 361.6 260.7 355.3 259.1 349.4 257.3 343.8 255.3 338.6 253 333.8 250.5 329.4 247.8 325.6 244.9 322.2 241.9 319.5 238.7 317.2 235.4 315.6 232.1 314.6 228.7 314.2 225.2 313.1 225.2 313.1 227.1 313.5 230.7 314.5 234.2 316.1 237.7Z" fill="url(#gSpring)" stroke="#000" stroke-width="1"/><path d="M311.9 242.2L314.9 245.8 318.6 249.2 322.8 252.4 327.6 255.4 332.9 258.2 338.6 260.8 344.8 263.1 351.3 265.2 358.2 266.9 365.3 268.4 372.6 269.5 380.1 270.3 387.7 270.8 395.3 270.9 402.9 270.8 410.4 270.3 417.9 269.4 425.1 268.3 432 266.8 438.7 265.1 445.1 263 451 260.7 456.5 258.2 461.5 255.4 466.1 252.4 470 249.3 473.4 246 476.2 242.5 478.4 238.9 479.9 235.3 480.8 231.6 481 227.9 481 225.2 479.9 225.2 479.6 228.8 478.8 232.4 477.2 236 475.1 239.4 472.4 242.8 469 246.1 465.1 249.2 460.7 252.1 455.7 254.8 450.3 257.3 444.4 259.6 438.2 261.6 431.6 263.3 424.7 264.7 417.6 265.9 410.2 266.7 402.8 267.3 395.3 267.5 387.8 267.4 380.3 266.9 372.9 266.2 365.7 265.1 358.6 263.7 351.9 262.1 345.4 260.1 339.4 257.9 333.7 255.4 328.5 252.7 323.8 249.7 319.6 246.6 316 243.3 313 239.9 310.6 236.3 308.8 232.7 307.7 229 307.3 225.2 306.1 225.2 306.1 227.1 306.6 231 307.7 234.8 309.5 238.5Z" fill="url(#gSpring)" stroke="#000" stroke-width="1"/></g>
<g id="springx"><path d="M393 232L384 270.6H410L401 232Z" fill="#8a8450" fill-opacity="0.28"/><path d="M439.2 180.1L440.2 180.2 441.7 180.4 443.4 180.7 445.1 181 446.9 181.3 448.5 181.7 449.9 182 451.2 182.4 452.5 182.8 453.9 183.3 455.4 183.9 457.2 184.6 459.3 185.5 461.6 186.5 464.1 187.6 466.6 188.8 469.1 190.1 471.5 191.5 473.9 193 476.5 194.7 479 196.5 481.5 198.3 483.7 200.1 485.6 201.8 487.1 203.4 488.5 204.9 489.6 206.5 490.6 208 491.5 209.6 492.3 211.2 493 212.8 493.6 214.4 494 216 494.4 217.7 494.6 219.3 494.7 221 494.7 222.8 494.4 224.8 494 226.9 493.6 228.9 493.2 230.5 492.9 231.8 495.1 232.2 495.4 231.1 495.8 229.4 496.3 227.4 496.8 225.2 497.1 223.1 497.3 221 497.2 219.1 497 217.3 496.7 215.4 496.2 213.6 495.6 211.8 494.9 210 494.1 208.3 493.2 206.5 492.2 204.8 490.9 203 489.5 201.2 487.8 199.4 485.8 197.6 483.5 195.7 481 193.8 478.4 191.9 475.8 190.1 473.3 188.5 470.8 187 468.3 185.6 465.7 184.3 463.2 183.1 460.9 182 458.8 181 457 180.2 455.3 179.5 453.9 178.9 452.5 178.4 451 178 449.5 177.5 447.8 177.1 446 176.7 444.1 176.3 442.4 176 441 175.7 440 175.5Z" fill="#5f5b5f" stroke="#000" stroke-width="1.4"/></g>
<g id="incabloc" stroke-linejoin="round"><path d="M381 219L411 219L411 228.6L405.6 233L384 233L381 230Z" fill="#8e8e8e" stroke="#000" stroke-width="1.2"/><path d="M381 219L384 222.4H408L411 219" fill="none" stroke="#000" stroke-width="0.8"/><path d="M429 197L428.9 198.8 428.5 200.6 427.8 202.3 426.9 204 425.7 205.7 424.3 207.3 422.7 208.8 420.8 210.2 418.7 211.6 416.5 212.8 414.1 213.9 411.5 214.8 408.8 215.7 406 216.4 403.1 216.9 400.1 217.3 397.1 217.5 394 217.6 390.9 217.5 387.9 217.3 384.9 216.9 382 216.4 379.2 215.7 376.5 214.8 373.9 213.9 371.5 212.8 369.3 211.6 367.2 210.2 365.3 208.8 363.7 207.3 362.3 205.7 361.1 204 360.2 202.3 359.5 200.6 359.1 198.8 359 197 359.1 195.2 359.5 193.4 360.2 191.7 361.1 190 362.3 188.3 363.7 186.7 365.3 185.2 367.2 183.8 369.3 182.4 371.5 181.2 373.9 180.1 376.5 179.2 379.2 178.3 382 177.6 384.9 177.1 387.9 176.7 390.9 176.5 394 176.4 397.1 176.5 400.1 176.7 403.1 177.1 406 177.6 408.8 178.3 411.5 179.2 414.1 180.1 416.5 181.2 418.7 182.4 420.8 183.8 422.7 185.2 424.3 186.7 425.7 188.3 426.9 190 427.8 191.7 428.5 193.4 428.9 195.2 429 197Z" fill="#262626" stroke="#000" stroke-width="1.2"/><path d="M434.4 193.4L434.2 195.3 433.8 197.2 433 199 432 200.8 430.6 202.5 429 204.2 427.1 205.8 424.9 207.3 422.6 208.7 420 209.9 417.2 211.1 414.2 212.1 411.1 213 407.8 213.7 404.5 214.3 401 214.7 397.5 214.9 394 215 390.5 214.9 387 214.7 383.5 214.3 380.2 213.7 376.9 213 373.8 212.1 370.8 211.1 368 209.9 365.4 208.7 363.1 207.3 360.9 205.8 359 204.2 357.4 202.5 356 200.8 355 199 354.2 197.2 353.8 195.3 353.6 193.4 353.8 191.5 354.2 189.6 355 187.8 356 186 357.4 184.3 359 182.6 360.9 181 363.1 179.5 365.4 178.1 368 176.9 370.8 175.7 373.8 174.7 376.9 173.8 380.2 173.1 383.5 172.5 387 172.1 390.5 171.9 394 171.8 397.5 171.9 401 172.1 404.5 172.5 407.8 173.1 411.1 173.8 414.2 174.7 417.2 175.7 420 176.9 422.6 178.1 424.9 179.5 427.1 181 429 182.6 430.6 184.3 432 186 433 187.8 433.8 189.6 434.2 191.5 434.4 193.4Z" fill="#707070" stroke="#000" stroke-width="1.2"/><path d="M439.4 185.3L439.9 183.3 440.1 181.3 439.9 179.3 439.4 177.3 438.5 175.3 437.3 173.4 435.8 171.6 433.9 169.8 431.8 168.1 429.3 166.5 426.6 165 423.6 163.7 420.4 162.5 417.1 161.4 413.5 160.5 409.8 159.7 405.9 159.1 402 158.6 398 158.4 394 158.3 390 158.4 386 158.6 382.1 159.1 378.2 159.7 374.5 160.5 370.9 161.4 367.6 162.5 364.4 163.7 361.4 165 358.7 166.5 356.2 168.1 354.1 169.8 352.2 171.6 350.7 173.4 349.5 175.3 348.6 177.3 348.1 179.3 347.9 181.3 348.1 183.3 348.6 185.3 349.5 187.3 349.7 187.6 350.4 190.2 350.6 192.2 351.1 194.2 351.9 196.2 353 198.1 354.5 199.9 356.2 201.7 358.3 203.4 360.6 205 363.2 206.5 366 207.8 369 209 372.2 210.1 375.6 211 379.1 211.8 382.7 212.4 386.4 212.9 390.2 213.1 394 213.2 397.8 213.1 401.6 212.9 405.3 212.4 408.9 211.8 412.4 211 415.8 210.1 419 209 422 207.8 424.8 206.5 427.4 205 429.7 203.4 431.8 201.7 433.5 199.9 435 198.1 436.1 196.2 436.9 194.2 437.4 192.2 437.6 190.2 438.3 187.5 438.5 187.3Z" fill="url(#gInca)" stroke="#000" stroke-width="1.5"/><path d="M440.1 181.6L439.9 183.6 439.4 185.5 438.5 187.5 437.3 189.4 435.8 191.2 433.9 192.9 431.8 194.6 429.3 196.2 426.6 197.7 423.6 199 420.4 200.2 417.1 201.3 413.5 202.2 409.8 202.9 405.9 203.5 402 204 398 204.2 394 204.3 390 204.2 386 204 382.1 203.5 378.2 202.9 374.5 202.2 370.9 201.3 367.6 200.2 364.4 199 361.4 197.7 358.7 196.2 356.2 194.6 354.1 192.9 352.2 191.2 350.7 189.4 349.5 187.5 348.6 185.5 348.1 183.6 347.9 181.6 348.1 179.6 348.6 177.7 349.5 175.7 350.7 173.8 352.2 172 354.1 170.2 356.2 168.6 358.7 167 361.4 165.5 364.4 164.2 367.6 163 370.9 161.9 374.5 161 378.2 160.3 382.1 159.7 386 159.2 390 159 394 158.9 398 159 402 159.2 405.9 159.7 409.8 160.3 413.5 161 417.1 161.9 420.4 163 423.6 164.2 426.6 165.5 429.3 167 431.8 168.6 433.9 170.2 435.8 172 437.3 173.8 438.5 175.7 439.4 177.7 439.9 179.6 440.1 181.6Z" fill="#b6b6b6" stroke="#000" stroke-width="1.6"/><path d="M436.3 181.5L436.1 183.2 435.7 184.9 434.9 186.6 433.8 188.3 432.3 189.9 430.6 191.4 428.7 192.9 426.4 194.2 423.9 195.5 421.2 196.7 418.3 197.7 415.2 198.6 411.9 199.4 408.5 200.1 405 200.6 401.4 201 397.8 201.2 394.1 201.3 390.4 201.2 386.8 201 383.2 200.6 379.7 200.1 376.3 199.4 373 198.6 369.9 197.7 367 196.7 364.3 195.5 361.8 194.2 359.5 192.9 357.6 191.4 355.9 189.9 354.4 188.3 353.3 186.6 352.5 184.9 352.1 183.2 351.9 181.5 352.1 179.8 352.5 178.1 353.3 176.4 354.4 174.7 355.9 173.1 357.6 171.6 359.5 170.1 361.8 168.8 364.3 167.5 367 166.3 369.9 165.3 373 164.4 376.3 163.6 379.7 162.9 383.2 162.4 386.8 162 390.4 161.8 394.1 161.7 397.8 161.8 401.4 162 405 162.4 408.5 162.9 411.9 163.6 415.2 164.4 418.3 165.3 421.2 166.3 423.9 167.5 426.4 168.8 428.7 170.1 430.6 171.6 432.3 173.1 433.8 174.7 434.9 176.4 435.7 178.1 436.1 179.8 436.3 181.5Z" fill="#161616" stroke="#000" stroke-width="1.4"/><path d="M434.3 181.8L434.1 183.4 433.7 185 432.9 186.6 431.9 188.2 430.5 189.7 428.9 191.2 427 192.5 424.9 193.8 422.5 195 419.9 196.1 417.2 197.1 414.2 198 411.1 198.7 407.8 199.4 404.5 199.9 401.1 200.2 397.6 200.4 394.1 200.5 390.6 200.4 387.1 200.2 383.7 199.9 380.4 199.4 377.1 198.7 374 198 371 197.1 368.3 196.1 365.7 195 363.3 193.8 361.2 192.5 359.3 191.2 357.7 189.7 356.3 188.2 355.3 186.6 354.5 185 354.1 183.4 353.9 181.8 354.1 180.2 354.5 178.6 355.3 177 356.3 175.4 357.7 173.9 359.3 172.5 361.2 171.1 363.3 169.8 365.7 168.6 368.3 167.5 371 166.5 374 165.6 377.1 164.9 380.4 164.2 383.7 163.7 387.1 163.4 390.6 163.2 394.1 163.1 397.6 163.2 401.1 163.4 404.5 163.7 407.8 164.2 411.1 164.9 414.2 165.6 417.2 166.5 419.9 167.5 422.5 168.6 424.9 169.8 427 171.1 428.9 172.4 430.5 173.9 431.9 175.4 432.9 177 433.7 178.6 434.1 180.2 434.3 181.8Z" fill="#b0b0b0" stroke="#000" stroke-width="1.4"/><path d="M428.1 182.2L428 183.5 427.6 184.9 426.9 186.2 426 187.5 424.9 188.7 423.5 189.9 422 191 420.1 192.1 418.1 193.1 416 194 413.6 194.8 411.1 195.5 408.5 196.2 405.7 196.7 402.9 197.1 400 197.4 397.1 197.5 394.1 197.6 391.1 197.5 388.2 197.4 385.3 197.1 382.5 196.7 379.7 196.2 377.1 195.5 374.6 194.8 372.2 194 370.1 193.1 368.1 192.1 366.2 191 364.7 189.9 363.3 188.7 362.2 187.5 361.3 186.2 360.6 184.9 360.2 183.5 360.1 182.2 360.2 180.9 360.6 179.5 361.3 178.2 362.2 176.9 363.3 175.7 364.7 174.5 366.2 173.4 368.1 172.3 370.1 171.3 372.2 170.4 374.6 169.6 377.1 168.9 379.7 168.2 382.5 167.7 385.3 167.3 388.2 167 391.1 166.9 394.1 166.8 397.1 166.9 400 167 402.9 167.3 405.7 167.7 408.5 168.2 411.1 168.9 413.6 169.6 416 170.4 418.1 171.3 420.1 172.3 422 173.4 423.5 174.5 424.9 175.7 426 176.9 426.9 178.2 427.6 179.5 428 180.9 428.1 182.2Z" fill="#181818" stroke="#000" stroke-width="1.5"/><path d="M348.4 177.8H363.6" stroke="#111" stroke-width="1.6" fill="none"/><path d="M427.6 182.6H440" stroke="#111" stroke-width="1.6" fill="none"/><path d="M348.6 179L363 179L363.6 183L351 184.4Z" fill="#8a8a8a" stroke="#000" stroke-width="0.8"/><path d="M428 183.6H439.8L438.6 187.4L429.6 186.6Z" fill="#8a8a8a" stroke="#000" stroke-width="0.8"/><path d="M365 181L365.2 179.4 365.7 177.8 366.6 176.1 368 174.6 370 173.2 372.6 171.8 375.3 170.6 378 169.6 380.6 168.9 383.4 168.4 385.9 168.2 388 168.2 389.4 168.6 390.2 169.2 391 169.9 392 170.4 393.4 170.4 395 170.2 396.6 170 398 170 399 170.5 399.9 171.4 400.8 172.2 402 172.6 403.7 172.4 405.8 171.9 407.9 171.4 410 171.2 412 171.4 414.1 171.9 416.1 172.6 418 173.4 419.7 174.5 421.3 175.9 422.7 177.3 424 178.6 425.3 179.6 426.5 180.6 427.3 181.5 427.6 182.4 427.1 183.4 425.9 184.5 424.4 185.6 423 186.6 421.7 187.6 420.3 188.6 418.7 189.6 417 190.4 414.9 191.1 412.6 191.8 410.2 192.4 408 192.8 405.9 193.1 403.8 193.4 401.8 193.5 400 193.4 398.4 193.1 397 192.5 395.6 191.9 394 191.6 392.2 191.7 390.2 192 388.2 192.3 386 192.4 383.6 192.1 381 191.7 378.4 191.1 376 190.4 373.7 189.6 371.6 188.6 369.6 187.5 368 186.4 366.8 185.2 365.8 183.9 365.2 182.5Z" fill="none" stroke="#a8822a" stroke-width="1.5"/><path d="M417.4 176.4L421.6 179.4L428.8 181.6L422.4 183.6L418.6 188L416.4 185.6L419.6 181.8Z" fill="#a8822a" stroke="none" stroke-width="0"/><path d="M413.4 183.8L413.3 184.7 413.1 185.6 412.7 186.5 412.2 187.4 411.5 188.2 410.7 189 409.7 189.8 408.7 190.5 407.5 191.2 406.2 191.8 404.8 192.3 403.3 192.8 401.7 193.2 400.1 193.6 398.4 193.8 396.7 194 395 194.2 393.2 194.2 391.4 194.2 389.7 194 388 193.8 386.3 193.6 384.7 193.2 383.1 192.8 381.6 192.3 380.2 191.8 378.9 191.2 377.7 190.5 376.7 189.8 375.7 189 374.9 188.2 374.2 187.4 373.7 186.5 373.3 185.6 373.1 184.7 373 183.8 373.1 182.9 373.3 182 373.7 181.1 374.2 180.2 374.9 179.4 375.7 178.6 376.7 177.8 377.7 177.1 378.9 176.4 380.2 175.8 381.6 175.3 383.1 174.8 384.7 174.4 386.3 174 388 173.8 389.7 173.6 391.4 173.4 393.2 173.4 395 173.4 396.7 173.6 398.4 173.8 400.1 174 401.7 174.4 403.3 174.8 404.8 175.3 406.2 175.8 407.5 176.4 408.7 177.1 409.7 177.8 410.7 178.6 411.5 179.4 412.2 180.2 412.7 181.1 413.1 182 413.3 182.9 413.4 183.8Z" fill="#101010" stroke="#000" stroke-width="1.2"/><path d="M413 182.8L412.9 183.6 412.7 184.4 412.3 185.2 411.8 186 411.2 186.8 410.4 187.5 409.5 188.2 408.5 188.8 407.3 189.4 406.1 190 404.7 190.5 403.3 190.9 401.8 191.3 400.2 191.6 398.6 191.9 397 192.1 395.3 192.2 393.6 192.2 391.9 192.2 390.2 192.1 388.6 191.9 387 191.6 385.4 191.3 383.9 190.9 382.5 190.5 381.1 190 379.9 189.4 378.7 188.8 377.7 188.2 376.8 187.5 376 186.8 375.4 186 374.9 185.2 374.5 184.4 374.3 183.6 374.2 182.8 374.3 182 374.5 181.2 374.9 180.4 375.4 179.6 376 178.8 376.8 178.1 377.7 177.4 378.7 176.8 379.9 176.2 381.1 175.6 382.5 175.1 383.9 174.7 385.4 174.3 387 174 388.6 173.7 390.2 173.5 391.9 173.4 393.6 173.4 395.3 173.4 397 173.5 398.6 173.7 400.2 174 401.8 174.3 403.3 174.7 404.7 175.1 406.1 175.6 407.3 176.2 408.5 176.8 409.5 177.4 410.4 178.1 411.2 178.8 411.8 179.6 412.3 180.4 412.7 181.2 412.9 182 413 182.8Z" fill="#bc4550" stroke="none" stroke-width="0"/><path d="M409.4 184.4L409.3 185 409.2 185.6 408.9 186.2 408.5 186.7 407.9 187.3 407.3 187.8 406.6 188.3 405.8 188.8 404.8 189.2 403.8 189.6 402.7 190 401.6 190.3 400.4 190.6 399.1 190.8 397.8 191 396.5 191.1 395.2 191.2 393.8 191.2 392.4 191.2 391.1 191.1 389.8 191 388.5 190.8 387.2 190.6 386 190.3 384.9 190 383.8 189.6 382.8 189.2 381.8 188.8 381 188.3 380.3 187.8 379.7 187.3 379.1 186.7 378.7 186.2 378.4 185.6 378.3 185 378.2 184.4 378.3 183.8 378.4 183.2 378.7 182.6 379.1 182.1 379.7 181.5 380.3 181 381 180.5 381.8 180 382.8 179.6 383.8 179.2 384.9 178.8 386 178.5 387.2 178.2 388.5 178 389.8 177.8 391.1 177.7 392.4 177.6 393.8 177.6 395.2 177.6 396.5 177.7 397.8 177.8 399.1 178 400.4 178.2 401.6 178.5 402.7 178.8 403.8 179.2 404.8 179.6 405.8 180 406.6 180.5 407.3 181 407.9 181.5 408.5 182.1 408.9 182.6 409.2 183.2 409.3 183.8 409.4 184.4Z" fill="url(#gJewel)" stroke="none" stroke-width="0"/><path d="M378 189.6Q385 186.6 390 188.8Q395 191.8 401 192Q395 194.4 387 193.4Q380.6 192.2 378 189.6Z" fill="#0c0c0c" stroke="none" stroke-width="0"/></g>
<g id="redblock" stroke-linejoin="round"><path d="M471 138.1L529.6 184L529.6 219L471.6 174Z" fill="#530f10" stroke="#000" stroke-width="1.5"/><path d="M529.6 184L617 153L617 190L529.6 219Z" fill="#a62020" stroke="#000" stroke-width="1.5"/><path d="M471 138.1L559.9 108.5L617 153L529.6 184Z" fill="#bf1e1f" stroke="#000" stroke-width="1.5"/></g>
<g id="bridge" stroke-linejoin="round"><path d="M573 284Q573 299 592 307.4L620 308.8L710 305.6L712.4 307.6V330.6L760 328L916 320Q932 318 932.4 306L932 270L573 280Z" fill="#787878" stroke="#000" stroke-width="1.5"/><path d="M880 284.4L916 283Q932 281 932 274L932.4 306Q932 318 916 320L880 321.8Z" fill="url(#gSide)" stroke="none" stroke-width="0"/><path d="M573 284Q573 299 592 307.4L620 308.8L640 308V290L580 290Z" fill="url(#gSideL)" stroke="none" stroke-width="0"/><path d="M573 284Q573 299 592 307.4L620 308.8L710 305.6L712.4 307.6V330.6L760 328L916 320Q932 318 932.4 306L932 270L573 280Z" fill="none" stroke="#000" stroke-width="1.5"/><path d="M573.4 285Q571.4 272 586 262Q600 254.6 620 253.6L650 252.4Q664 251 672 243L709.3 228V212Q712 208 717 206.4L805 177.4Q809 174.8 815 175L862 188L873 193L873 207Q884 215.4 900 218L915 218.6L923 221L931 262Q934 278 918 282.6L900 284.2L760 292.4L610 295.4L588 295.4Q575 293 573.4 285Z" fill="url(#gCham)" stroke="#000" stroke-width="1.5"/><path d="M575.6 281Q574.6 271 588 263Q601 256 620 255L650 253.6Q665 252 673 244.4L709.3 229.4V212Q712 208 717 206.4L805 177.4Q809 174.8 815 175L862 188L862 196Q866 205 873 207.4Q884 215.4 900 218L915 218.8L921.6 259Q923 268.6 908 271.2L760 280L612 288.2L590 288.2Q577.6 287 575.6 281Z" fill="#a1a1a1" stroke="#000" stroke-width="1.2"/><path d="M862 188L873 193V207.4Q866 205 862 196Z" fill="url(#gNotchL)" stroke="#000" stroke-width="1.2"/><path d="M872.7 232L872.5 233.7 872.1 235.5 871.3 237.2 870.3 238.8 869 240.5 867.4 242 865.5 243.5 863.4 244.9 861.1 246.1 858.5 247.3 855.8 248.4 852.9 249.3 849.8 250.1 846.6 250.8 843.3 251.3 839.9 251.7 836.5 251.9 833 252 829.5 251.9 826.1 251.7 822.7 251.3 819.4 250.8 816.2 250.1 813.1 249.3 810.2 248.4 807.5 247.3 804.9 246.1 802.6 244.9 800.5 243.5 798.6 242 797 240.5 795.7 238.8 794.7 237.2 793.9 235.5 793.5 233.7 793.3 232 793.5 230.3 793.9 228.5 794.7 226.8 795.7 225.2 797 223.5 798.6 222 800.5 220.5 802.6 219.1 804.9 217.9 807.5 216.7 810.2 215.6 813.1 214.7 816.2 213.9 819.4 213.2 822.7 212.7 826.1 212.3 829.5 212.1 833 212 836.5 212.1 839.9 212.3 843.3 212.7 846.6 213.2 849.8 213.9 852.9 214.7 855.8 215.6 858.5 216.7 861.1 217.9 863.4 219.1 865.5 220.5 867.4 222 869 223.5 870.3 225.2 871.3 226.8 872.1 228.5 872.5 230.3 872.7 232Z" fill="url(#gSink)" stroke="#000" stroke-width="1.5"/><path d="M860.8 237.4L860.7 238.7 860.4 239.9 859.8 241.1 859.1 242.3 858.1 243.5 856.9 244.6 855.6 245.7 854.1 246.7 852.4 247.6 850.5 248.4 848.5 249.2 846.4 249.9 844.2 250.5 841.9 250.9 839.5 251.3 837 251.6 834.5 251.7 832 251.8 829.5 251.7 827 251.6 824.5 251.3 822.1 250.9 819.8 250.5 817.6 249.9 815.5 249.2 813.5 248.4 811.6 247.6 809.9 246.7 808.4 245.7 807.1 244.6 805.9 243.5 804.9 242.3 804.2 241.1 803.6 239.9 803.3 238.7 803.2 237.4 803.3 236.1 803.6 234.9 804.2 233.7 804.9 232.5 805.9 231.3 807.1 230.2 808.4 229.1 809.9 228.1 811.6 227.2 813.5 226.4 815.5 225.6 817.6 224.9 819.8 224.3 822.1 223.9 824.5 223.5 827 223.2 829.5 223.1 832 223 834.5 223.1 837 223.2 839.5 223.5 841.9 223.9 844.2 224.3 846.4 224.9 848.5 225.6 850.5 226.4 852.4 227.2 854.1 228.1 855.6 229.1 856.9 230.2 858.1 231.3 859.1 232.5 859.8 233.7 860.4 234.9 860.7 236.1 860.8 237.4Z" fill="#8c8c8c" stroke="#000" stroke-width="1.4"/><path d="M859.6 236.6L859.5 237.8 859.2 238.9 858.7 240 857.9 241.1 857 242.2 855.9 243.2 854.6 244.2 853.1 245.1 851.5 245.9 849.7 246.7 847.8 247.4 845.8 248 843.7 248.6 841.4 249 839.1 249.4 836.8 249.6 834.4 249.7 832 249.8 829.6 249.7 827.2 249.6 824.9 249.4 822.6 249 820.3 248.6 818.2 248 816.2 247.4 814.3 246.7 812.5 245.9 810.9 245.1 809.4 244.2 808.1 243.2 807 242.2 806.1 241.1 805.3 240 804.8 238.9 804.5 237.8 804.4 236.6 804.5 235.4 804.8 234.3 805.3 233.2 806.1 232.1 807 231 808.1 230 809.4 229 810.9 228.1 812.5 227.3 814.3 226.5 816.2 225.8 818.2 225.2 820.3 224.6 822.6 224.2 824.9 223.8 827.2 223.6 829.6 223.5 832 223.4 834.4 223.5 836.8 223.6 839.1 223.8 841.4 224.2 843.7 224.6 845.8 225.2 847.8 225.8 849.7 226.5 851.5 227.3 853.1 228.1 854.6 229 855.9 230 857 231 857.9 232.1 858.7 233.2 859.2 234.3 859.5 235.4 859.6 236.6Z" fill="#a4a4a4" stroke="#000" stroke-width="0.9"/><path d="M805.4 236.6L858 233.4L858.6 236.2L806 240Z" fill="#8a8a8a" stroke="#000" stroke-width="0.9"/><path d="M805.8 238.4L858.4 235" fill="none" stroke="#000" stroke-width="0.7"/><path d="M632.1 271.6L632 272.3 631.8 273.1 631.5 273.8 631 274.5 630.4 275.2 629.7 275.9 628.9 276.5 628 277.1 626.9 277.7 625.8 278.2 624.6 278.6 623.2 279 621.9 279.4 620.5 279.7 619 279.9 617.5 280.1 615.9 280.2 614.4 280.2 612.9 280.2 611.3 280.1 609.8 279.9 608.3 279.7 606.9 279.4 605.5 279 604.2 278.6 603 278.2 601.9 277.7 600.8 277.1 599.9 276.5 599.1 275.9 598.4 275.2 597.8 274.5 597.3 273.8 597 273.1 596.8 272.3 596.7 271.6 596.8 270.9 597 270.1 597.3 269.4 597.8 268.7 598.4 268 599.1 267.3 599.9 266.7 600.8 266.1 601.9 265.5 603 265 604.2 264.6 605.5 264.2 606.9 263.8 608.3 263.5 609.8 263.3 611.3 263.1 612.9 263 614.4 263 615.9 263 617.5 263.1 619 263.3 620.5 263.5 621.9 263.8 623.2 264.2 624.6 264.6 625.8 265 626.9 265.5 628 266.1 628.9 266.7 629.7 267.3 630.4 268 631 268.7 631.5 269.4 631.8 270.1 632 270.9 632.1 271.6Z" fill="#8a8a8a" stroke="#000" stroke-width="1.4"/><path d="M628.6 274.4L628.5 274.9 628.4 275.4 628.1 275.9 627.8 276.4 627.3 276.9 626.7 277.3 626.1 277.7 625.3 278.1 624.5 278.5 623.6 278.8 622.6 279.2 621.6 279.4 620.5 279.7 619.4 279.9 618.2 280 617 280.1 615.8 280.2 614.6 280.2 613.4 280.2 612.2 280.1 611 280 609.8 279.9 608.7 279.7 607.6 279.4 606.6 279.2 605.6 278.8 604.7 278.5 603.9 278.1 603.1 277.7 602.5 277.3 601.9 276.9 601.4 276.4 601.1 275.9 600.8 275.4 600.7 274.9 600.6 274.4 600.7 273.9 600.8 273.4 601.1 272.9 601.4 272.4 601.9 271.9 602.5 271.5 603.1 271.1 603.9 270.7 604.7 270.3 605.6 270 606.6 269.6 607.6 269.4 608.7 269.1 609.8 268.9 611 268.8 612.2 268.7 613.4 268.6 614.6 268.6 615.8 268.6 617 268.7 618.2 268.8 619.4 268.9 620.5 269.1 621.6 269.4 622.6 269.6 623.6 270 624.5 270.3 625.3 270.7 626.1 271.1 626.7 271.5 627.3 271.9 627.8 272.4 628.1 272.9 628.4 273.4 628.5 273.9 628.6 274.4Z" fill="#a42c3a" stroke="#000" stroke-width="1.2"/><path d="M624 275.6L624 275.9 623.9 276.3 623.7 276.6 623.4 276.9 623.1 277.2 622.7 277.5 622.3 277.8 621.8 278 621.2 278.3 620.6 278.5 620 278.7 619.3 278.9 618.6 279 617.8 279.2 617 279.3 616.2 279.3 615.4 279.4 614.6 279.4 613.8 279.4 613 279.3 612.2 279.3 611.4 279.2 610.6 279 609.9 278.9 609.2 278.7 608.6 278.5 608 278.3 607.4 278 606.9 277.8 606.5 277.5 606.1 277.2 605.8 276.9 605.5 276.6 605.3 276.3 605.2 275.9 605.2 275.6 605.2 275.3 605.3 274.9 605.5 274.6 605.8 274.3 606.1 274 606.5 273.7 606.9 273.4 607.4 273.2 608 272.9 608.6 272.7 609.2 272.5 609.9 272.3 610.6 272.2 611.4 272 612.2 271.9 613 271.9 613.8 271.8 614.6 271.8 615.4 271.8 616.2 271.9 617 271.9 617.8 272 618.6 272.2 619.3 272.3 620 272.5 620.6 272.7 621.2 272.9 621.8 273.2 622.3 273.4 622.7 273.7 623.1 274 623.4 274.3 623.7 274.6 623.9 274.9 624 275.3 624 275.6Z" fill="#c85a66" stroke="#000" stroke-width="0.8"/><path d="M616.4 277L616.4 277.1 616.4 277.3 616.3 277.4 616.3 277.5 616.2 277.7 616.1 277.8 616 277.9 615.9 278 615.8 278.1 615.7 278.2 615.5 278.3 615.4 278.4 615.2 278.5 615.1 278.5 614.9 278.5 614.7 278.6 614.6 278.6 614.4 278.6 614.2 278.6 614.1 278.6 613.9 278.5 613.7 278.5 613.6 278.5 613.4 278.4 613.3 278.3 613.1 278.2 613 278.1 612.9 278 612.8 277.9 612.7 277.8 612.6 277.7 612.5 277.5 612.5 277.4 612.4 277.3 612.4 277.1 612.4 277 612.4 276.9 612.4 276.7 612.5 276.6 612.5 276.5 612.6 276.3 612.7 276.2 612.8 276.1 612.9 276 613 275.9 613.1 275.8 613.3 275.7 613.4 275.6 613.6 275.5 613.7 275.5 613.9 275.5 614.1 275.4 614.2 275.4 614.4 275.4 614.6 275.4 614.7 275.4 614.9 275.5 615.1 275.5 615.2 275.5 615.4 275.6 615.5 275.7 615.7 275.8 615.8 275.9 615.9 276 616 276.1 616.1 276.2 616.2 276.3 616.3 276.5 616.3 276.6 616.4 276.7 616.4 276.9 616.4 277Z" fill="#111" stroke="none" stroke-width="0"/></g>
<g id="blackfront" stroke-linejoin="round"><path d="M634 236L651.6 252.4L663 250L672.6 243.8L674.3 243.6L670 239.3Z" fill="#484848" stroke="#000" stroke-width="1.2"/><path d="M670 239.3L709.3 226.4L715.7 228L674.3 243.6Z" fill="#bdbdbd" stroke="#000" stroke-width="1.2"/><path d="M630 233L720 205L720 208L717 206.4Q709.5 208 709.3 213V226.4L670 239.3L634 236Z" fill="#3a3a3a" stroke="#000" stroke-width="1.2"/><path d="M709.3 213Q709.5 207 717 206.4Q724.6 207.5 724.4 214Q723.5 223 717 226.4L715.7 228L709.3 226.4Z" fill="url(#gNotch)" stroke="#000" stroke-width="1.2"/><path d="M709.3 213Q716 218 715.7 228" fill="none" stroke="#000" stroke-width="1.2"/><path d="M618 231.6L690 206.2L801.4 169.2L805 171.4L805 174.6L690 210.4L632 235.6L621 234.6Z" fill="#8e8e8e" stroke="#000" stroke-width="0.9"/><path d="M640 228.8L690 209.4L803 172.8" fill="none" stroke="#a6a6a6" stroke-width="1.1"/><path d="M598.6 208.6L690 177.5L803.6 141L805 171.4L801.4 169.2L690 206.2L618 231.6Q600 229.5 596.4 221Z" fill="#393939" stroke="#000" stroke-width="1.4"/><path d="M588.6 177.4Q590 176.2 593.4 177.6L638 165L700 144L772 120Q790 130.5 804.4 128.6L803.6 141L690 177.5L598.6 208.6L596 211.2L589.2 213.6Z" fill="url(#gRail)" stroke="none" stroke-width="0"/><path d="M638 165L593.4 177.6Q590 176.2 588.6 177.4L589.2 213.6L596 211.2L598.6 208.6L690 177.5L803.6 141" fill="none" stroke="#000" stroke-width="1.4"/><path d="M772 120Q790 130.5 804.4 128.6" fill="none" stroke="#000" stroke-width="1.4"/><path d="M588.6 177.4Q590 176.2 593.4 177.6Q599 190 598.6 208.6L596 211.2L589.2 213.6Z" fill="#252525" stroke="#000" stroke-width="1.4"/></g>
<g id="leaders" fill="none" stroke="#000" stroke-width="1"><path d="M418 80.6H476.6L551 138.4"/><path d="M555 141.5L546.9 138L549.7 134.6Z" fill="#000" stroke="none"/><path d="M166 162.4H196L266 247.8"/><path d="M269.4 252L262.3 246.8L265.7 244Z" fill="#000" stroke="none"/></g>
</g>

<!-- ====== FRAME ====== -->
<g id="frame" fill="none" stroke="#000" stroke-width="2.4" stroke-linejoin="miter">
  <rect x="35.2" y="34.8" width="979.6" height="671.4"/>
  <!-- centring marks -->
  <path d="M524.8 0V34"/>
  <path d="M515.2 17.7H535L525.1 33.4Z"/>
  <path d="M524.8 742V707"/>
  <path d="M515.2 723.8H535L525.1 707.8Z"/>
  <path d="M0 370.7H34"/>
  <path d="M18 360.2V381L33.6 370.6Z"/>
  <path d="M1050 370.7H1016"/>
  <path d="M1031.8 360.2V381L1016.2 370.6Z"/>
</g>

<!-- ====== TITLE BLOCK ====== -->
<g id="titleblock" fill="none" stroke="#000" stroke-width="1.7">
  <!-- outer -->
  <path d="M343.3 706V464.3H1014"/>
  <!-- horizontals -->
  <path d="M343.3 500H1014"/>
  <path d="M343.3 535.1H1014"/>
  <path d="M343.3 570.6H413.3"/>
  <path d="M820.2 570.9H1014"/>
  <path d="M343.3 605.5H1014"/>
  <path d="M343.3 636.7H1014"/>
  <path d="M678.4 671.9H1014"/>
  <!-- verticals -->
  <path d="M413.3 464.3V706"/>
  <path d="M519.5 464.3V535.1"/>
  <path d="M678.4 464.3V706"/>
  <path d="M820.2 464.3V636.7"/>
  <path d="M873.4 500V605.5"/>
  <path d="M943 464.3V636.7"/>
  <path d="M732.2 605.5V671.9"/>
  <path d="M890.6 671.9V706"/>
  <path d="M943 671.9V706"/>
</g>
<g id="tbtext">
  <text x="417.6" y="491.8" font-size="17.3">Matière</text>
  <text x="523.6" y="491.8" font-size="17.4">Traitement</text>
  <text x="683" y="483.2" font-size="12.3">Cotes et tolérances</text>
  <text x="683" y="496.6" font-size="12.3">en mm.</text>
  <text x="823" y="486.4" font-size="12.5">Tolérance générale:</text>
  <text x="823.6" y="513.2" font-size="10">Dessiné</text>
  <text x="879" y="526.2" font-size="12.1">10.05.2013</text>
  <text x="949.8" y="526.2" font-size="12.2">D. Buser</text>
  <text x="684" y="547.2" font-size="10">Echelle:</text>
  <text x="684" y="583.6" font-size="24.4">10:1</text>
  <text x="823.6" y="548.2" font-size="10.1">Contrôlé</text>
  <text x="875.6" y="561.4" font-size="12.3">22.05.2013</text>
  <text x="950" y="561.4" font-size="12.2" word-spacing="1.6">F. B.</text>
  <text x="826.8" y="592.2" font-size="10">Modifié</text>
  <text x="447.6" y="579.6" font-size="24.8">Optical Sensor</text>
  <text x="354" y="623.6" font-size="10">Calibre</text>
  <text x="420" y="624.6" font-size="17.1">UR-EMC</text>
  <text x="684" y="623.4" font-size="10">Validé le</text>
  <text x="739.6" y="621.4" font-size="12.3">22.05.2013</text>
  <text x="949" y="628.4" font-size="16.5">A4</text>
  <text x="685.2" y="657.4" font-size="10">N° plan</text>
  <text x="761" y="659.6" font-size="17.1">UR-EMC PR-001</text>
  <text x="739" y="694.4" font-size="16.7">PR 001</text>
  <text x="899.8" y="680.4" font-size="10">Version</text>
  <text x="964.4" y="680.4" font-size="10.1">Feuille</text>
  <text x="957.4" y="697.4" font-size="12">1</text>
  <text x="978.4" y="697.4" font-size="12">/</text>
  <text x="992" y="697.4" font-size="12">2</text>
  <!-- URWERK SA lettering (DIN style, drawn as strokes) -->
  <g id="urwerk" fill="none" stroke="#000" stroke-width="4.5" stroke-linejoin="miter" stroke-linecap="butt" clip-path="url(#urclip)">
    <path d="M455.75 658V677L459.5 680.75H464L467.75 677V658"/>
    <path d="M476.25 658V683.5M474 660.75H484.6L488.25 664.2V668.2L484.6 671.4H476"/>
    <path d="M484 671L489.3 684"/>
    <path d="M497 657L501.9 684.5L507.25 657L512.6 684.5L517.5 657"/>
    <path d="M540 660.75H526.25V680.75H540M526 671H535"/>
    <path d="M546.25 658V683.5M544 660.75H554.6L558.25 664.2V668.2L554.6 671.4H546"/>
    <path d="M554 671L559.3 684"/>
    <path d="M566.75 658V683.5"/>
    <path d="M567.5 675.5L579.3 657"/>
    <path d="M572.6 667.5L580 684.5"/>
    <path d="M612.25 666.5V663.5L609.5 660.75H602.5L599.75 663.5V667.2L602.5 670L609.8 672.6L612.25 675.3V678L609.5 680.75H602.5L599.75 678V675.5"/>
    <path d="M620.6 685L626.2 657L627.8 657L633.4 685M622.5 677H631.5"/>
  </g>
</g>

<!-- ====== LABELS ====== -->
<g id="labels">
  <text x="312.6" y="85.5" font-size="17.4" textLength="102.4" lengthAdjust="spacingAndGlyphs">optical sensor</text>
  <text x="56.6" y="168.5" font-size="17.4" textLength="106.1" lengthAdjust="spacingAndGlyphs">balance wheel</text>
</g>
</svg>
</body>
</html>
